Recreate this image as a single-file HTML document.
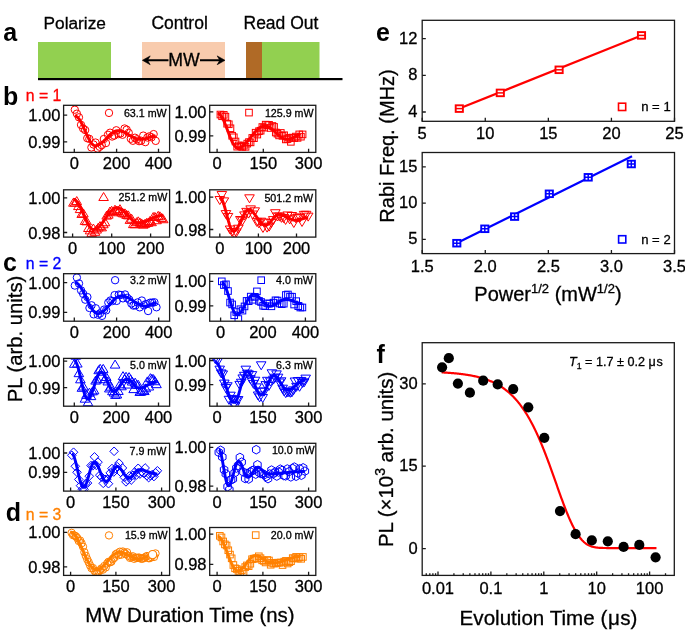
<!DOCTYPE html>
<html><head><meta charset="utf-8"><style>
html,body{margin:0;padding:0;background:#fff;}
svg{display:block;will-change:transform;}
text{font-family:"Liberation Sans",sans-serif;}
</style></head><body>
<svg width="685" height="630" viewBox="0 0 685 630">
<rect width="685" height="630" fill="#fff"/>
<rect x="38" y="42" width="73" height="37" fill="#92d050"/>
<rect x="142" y="42" width="83" height="37" fill="#f8cbad"/>
<rect x="246" y="42" width="16" height="37" fill="#b06a26"/>
<rect x="262" y="42" width="57.5" height="37" fill="#92d050"/>
<rect x="38" y="78" width="304.5" height="2.2" fill="#000"/>
<text x="43.50" y="28.60" font-size="17.3" text-anchor="start" fill="#000" stroke="#000" stroke-width="0.3" >Polarize</text>
<text x="151.40" y="28.70" font-size="17.5" text-anchor="start" fill="#000" stroke="#000" stroke-width="0.3" >Control</text>
<text x="243.50" y="28.70" font-size="17.5" text-anchor="start" fill="#000" stroke="#000" stroke-width="0.3" >Read Out</text>
<text x="184.00" y="65.60" font-size="17.7" text-anchor="middle" fill="#000" stroke="#000" stroke-width="0.3" >MW</text>
<path d="M147 60.3H168.5M200 60.3H220.5" stroke="#000" stroke-width="1.9" fill="none"/>
<path d="M142.4 60.3L150.2 55.9L147.6 60.3L150.2 64.7Z M225 60.3L217.2 55.9L219.8 60.3L217.2 64.7Z" fill="#000" stroke="#000" stroke-width="0.6" stroke-linejoin="round"/>
<text x="3.20" y="40.90" font-size="25" text-anchor="start" fill="#000" font-weight="bold" >a</text>
<text x="3.10" y="104.70" font-size="25" text-anchor="start" fill="#000" font-weight="bold" >b</text>
<text x="3.10" y="270.60" font-size="25" text-anchor="start" fill="#000" font-weight="bold" >c</text>
<text x="5.70" y="520.50" font-size="25" text-anchor="start" fill="#000" font-weight="bold" >d</text>
<text x="376.10" y="40.90" font-size="25" text-anchor="start" fill="#000" font-weight="bold" >e</text>
<text x="376.60" y="362.80" font-size="25" text-anchor="start" fill="#000" font-weight="bold" >f</text>
<text x="25.80" y="101.10" font-size="15.8" text-anchor="start" fill="#ff0000" stroke="#ff0000" stroke-width="0.3" >n = 1</text>
<text x="25.80" y="269.40" font-size="15.8" text-anchor="start" fill="#0000ff" stroke="#0000ff" stroke-width="0.3" >n = 2</text>
<text x="25.80" y="520.40" font-size="15.8" text-anchor="start" fill="#ff8000" stroke="#ff8000" stroke-width="0.3" >n = 3</text>
<clipPath id="c1"><rect x="63.6" y="105.3" width="106.0" height="47.10000000000001"/></clipPath><g clip-path="url(#c1)">
<circle cx="74.80" cy="109.70" r="3.7" fill="none" stroke="#ff0000" stroke-width="1.0"/>
<circle cx="76.87" cy="113.68" r="3.7" fill="none" stroke="#ff0000" stroke-width="1.0"/>
<circle cx="78.95" cy="117.31" r="3.7" fill="none" stroke="#ff0000" stroke-width="1.0"/>
<circle cx="81.02" cy="124.88" r="3.7" fill="none" stroke="#ff0000" stroke-width="1.0"/>
<circle cx="83.10" cy="128.47" r="3.7" fill="none" stroke="#ff0000" stroke-width="1.0"/>
<circle cx="85.17" cy="130.04" r="3.7" fill="none" stroke="#ff0000" stroke-width="1.0"/>
<circle cx="87.25" cy="138.20" r="3.7" fill="none" stroke="#ff0000" stroke-width="1.0"/>
<circle cx="89.32" cy="138.84" r="3.7" fill="none" stroke="#ff0000" stroke-width="1.0"/>
<circle cx="91.39" cy="147.43" r="3.7" fill="none" stroke="#ff0000" stroke-width="1.0"/>
<circle cx="93.47" cy="144.49" r="3.7" fill="none" stroke="#ff0000" stroke-width="1.0"/>
<circle cx="95.54" cy="142.55" r="3.7" fill="none" stroke="#ff0000" stroke-width="1.0"/>
<circle cx="97.62" cy="148.57" r="3.7" fill="none" stroke="#ff0000" stroke-width="1.0"/>
<circle cx="99.69" cy="146.77" r="3.7" fill="none" stroke="#ff0000" stroke-width="1.0"/>
<circle cx="101.77" cy="145.15" r="3.7" fill="none" stroke="#ff0000" stroke-width="1.0"/>
<circle cx="103.84" cy="139.00" r="3.7" fill="none" stroke="#ff0000" stroke-width="1.0"/>
<circle cx="105.92" cy="143.04" r="3.7" fill="none" stroke="#ff0000" stroke-width="1.0"/>
<circle cx="107.99" cy="134.79" r="3.7" fill="none" stroke="#ff0000" stroke-width="1.0"/>
<circle cx="110.06" cy="132.71" r="3.7" fill="none" stroke="#ff0000" stroke-width="1.0"/>
<circle cx="112.14" cy="136.52" r="3.7" fill="none" stroke="#ff0000" stroke-width="1.0"/>
<circle cx="114.21" cy="135.57" r="3.7" fill="none" stroke="#ff0000" stroke-width="1.0"/>
<circle cx="116.29" cy="130.28" r="3.7" fill="none" stroke="#ff0000" stroke-width="1.0"/>
<circle cx="118.36" cy="134.11" r="3.7" fill="none" stroke="#ff0000" stroke-width="1.0"/>
<circle cx="120.44" cy="133.47" r="3.7" fill="none" stroke="#ff0000" stroke-width="1.0"/>
<circle cx="122.51" cy="134.75" r="3.7" fill="none" stroke="#ff0000" stroke-width="1.0"/>
<circle cx="124.58" cy="128.51" r="3.7" fill="none" stroke="#ff0000" stroke-width="1.0"/>
<circle cx="126.66" cy="129.67" r="3.7" fill="none" stroke="#ff0000" stroke-width="1.0"/>
<circle cx="128.73" cy="132.79" r="3.7" fill="none" stroke="#ff0000" stroke-width="1.0"/>
<circle cx="130.81" cy="138.76" r="3.7" fill="none" stroke="#ff0000" stroke-width="1.0"/>
<circle cx="132.88" cy="140.76" r="3.7" fill="none" stroke="#ff0000" stroke-width="1.0"/>
<circle cx="134.96" cy="137.70" r="3.7" fill="none" stroke="#ff0000" stroke-width="1.0"/>
<circle cx="137.03" cy="139.34" r="3.7" fill="none" stroke="#ff0000" stroke-width="1.0"/>
<circle cx="139.11" cy="141.15" r="3.7" fill="none" stroke="#ff0000" stroke-width="1.0"/>
<circle cx="141.18" cy="140.76" r="3.7" fill="none" stroke="#ff0000" stroke-width="1.0"/>
<circle cx="143.25" cy="135.61" r="3.7" fill="none" stroke="#ff0000" stroke-width="1.0"/>
<circle cx="145.33" cy="142.11" r="3.7" fill="none" stroke="#ff0000" stroke-width="1.0"/>
<circle cx="147.40" cy="137.49" r="3.7" fill="none" stroke="#ff0000" stroke-width="1.0"/>
<circle cx="149.48" cy="136.32" r="3.7" fill="none" stroke="#ff0000" stroke-width="1.0"/>
<circle cx="151.55" cy="137.32" r="3.7" fill="none" stroke="#ff0000" stroke-width="1.0"/>
<circle cx="153.63" cy="134.12" r="3.7" fill="none" stroke="#ff0000" stroke-width="1.0"/>
<circle cx="155.70" cy="140.88" r="3.7" fill="none" stroke="#ff0000" stroke-width="1.0"/>
<path d="M74.80 116.00 L75.30 116.04 L75.80 116.17 L76.30 116.39 L76.80 116.69 L77.30 117.08 L77.80 117.54 L78.30 118.09 L78.80 118.70 L79.30 119.39 L79.80 120.15 L80.30 120.97 L80.80 121.85 L81.30 122.78 L81.80 123.76 L82.30 124.78 L82.80 125.83 L83.30 126.92 L83.80 128.02 L84.30 129.15 L84.80 130.28 L85.30 131.42 L85.80 132.55 L86.30 133.68 L86.80 134.78 L87.30 135.87 L87.80 136.92 L88.30 137.94 L88.80 138.92 L89.30 139.85 L89.80 140.73 L90.30 141.55 L90.80 142.31 L91.30 143.00 L91.80 143.61 L92.30 144.16 L92.80 144.62 L93.30 145.01 L93.80 145.31 L94.30 145.53 L94.80 145.66 L95.30 145.70 L95.80 145.68 L96.30 145.63 L96.81 145.54 L97.31 145.41 L97.81 145.25 L98.31 145.05 L98.82 144.82 L99.32 144.56 L99.82 144.27 L100.32 143.95 L100.82 143.60 L101.33 143.22 L101.83 142.82 L102.33 142.39 L102.83 141.95 L103.34 141.49 L103.84 141.01 L104.34 140.52 L104.84 140.01 L105.34 139.50 L105.85 138.98 L106.35 138.46 L106.85 137.94 L107.35 137.42 L107.86 136.90 L108.36 136.39 L108.86 135.88 L109.36 135.39 L109.86 134.91 L110.37 134.45 L110.87 134.01 L111.37 133.58 L111.87 133.18 L112.38 132.80 L112.88 132.45 L113.38 132.13 L113.88 131.84 L114.38 131.58 L114.89 131.35 L115.39 131.15 L115.89 130.99 L116.39 130.86 L116.90 130.77 L117.40 130.72 L117.90 130.70 L118.40 130.71 L118.91 130.74 L119.41 130.80 L119.92 130.87 L120.42 130.96 L120.93 131.08 L121.43 131.21 L121.94 131.36 L122.44 131.53 L122.94 131.72 L123.45 131.92 L123.95 132.14 L124.46 132.37 L124.96 132.62 L125.47 132.88 L125.97 133.14 L126.48 133.42 L126.98 133.71 L127.48 134.00 L127.99 134.29 L128.49 134.60 L129.00 134.90 L129.50 135.20 L130.01 135.50 L130.51 135.81 L131.02 136.10 L131.52 136.39 L132.02 136.68 L132.53 136.96 L133.03 137.22 L133.54 137.48 L134.04 137.73 L134.55 137.96 L135.05 138.18 L135.56 138.38 L136.06 138.57 L136.56 138.74 L137.07 138.89 L137.57 139.02 L138.08 139.14 L138.58 139.23 L139.09 139.30 L139.59 139.36 L140.10 139.39 L140.60 139.40 L141.10 139.39 L141.61 139.36 L142.11 139.32 L142.61 139.26 L143.12 139.18 L143.62 139.08 L144.12 138.98 L144.63 138.85 L145.13 138.72 L145.63 138.58 L146.14 138.42 L146.64 138.26 L147.14 138.09 L147.65 137.92 L148.15 137.75 L148.65 137.58 L149.16 137.41 L149.66 137.24 L150.16 137.08 L150.67 136.93 L151.17 136.78 L151.67 136.65 L152.18 136.52 L152.68 136.42 L153.18 136.32 L153.69 136.24 L154.19 136.18 L154.69 136.14 L155.20 136.11 L155.70 136.10" fill="none" stroke="#ff0000" stroke-width="2.9" stroke-linejoin="round"/>
</g>
<rect x="63.6" y="105.3" width="106.0" height="47.10000000000001" fill="none" stroke="#1a1a1a" stroke-width="1.3"/>
<text x="74.30" y="169.10" font-size="16.5" text-anchor="middle" fill="#000" stroke="#000" stroke-width="0.3" >0</text>
<text x="116.60" y="169.10" font-size="16.5" text-anchor="middle" fill="#000" stroke="#000" stroke-width="0.3" >200</text>
<text x="158.50" y="169.10" font-size="16.5" text-anchor="middle" fill="#000" stroke="#000" stroke-width="0.3" >400</text>
<text x="60.40" y="121.20" font-size="16.5" text-anchor="end" fill="#000" stroke="#000" stroke-width="0.3" >1.00</text>
<text x="60.40" y="147.90" font-size="16.5" text-anchor="end" fill="#000" stroke="#000" stroke-width="0.3" >0.99</text>
<path d="M74.30 152.4v-3.6M116.60 152.4v-3.6M158.50 152.4v-3.6M63.6 115.20h3.6M63.6 141.90h3.6" stroke="#1a1a1a" stroke-width="1.3" fill="none"/>
<circle cx="109.00" cy="112.90" r="3.7" fill="none" stroke="#ff0000" stroke-width="1.0"/>
<text x="123.90" y="116.90" font-size="10.7" text-anchor="start" fill="#000" stroke="#000" stroke-width="0.3" >63.1 mW</text>
<clipPath id="c2"><rect x="209.7" y="105.3" width="106.10000000000002" height="47.10000000000001"/></clipPath><g clip-path="url(#c2)">
<rect x="217.10" y="111.25" width="6.6" height="6.6" fill="none" stroke="#ff0000" stroke-width="1.0"/>
<rect x="218.78" y="112.94" width="6.6" height="6.6" fill="none" stroke="#ff0000" stroke-width="1.0"/>
<rect x="220.46" y="111.55" width="6.6" height="6.6" fill="none" stroke="#ff0000" stroke-width="1.0"/>
<rect x="222.13" y="113.34" width="6.6" height="6.6" fill="none" stroke="#ff0000" stroke-width="1.0"/>
<rect x="223.81" y="120.41" width="6.6" height="6.6" fill="none" stroke="#ff0000" stroke-width="1.0"/>
<rect x="225.49" y="120.97" width="6.6" height="6.6" fill="none" stroke="#ff0000" stroke-width="1.0"/>
<rect x="227.17" y="124.97" width="6.6" height="6.6" fill="none" stroke="#ff0000" stroke-width="1.0"/>
<rect x="228.84" y="132.44" width="6.6" height="6.6" fill="none" stroke="#ff0000" stroke-width="1.0"/>
<rect x="230.52" y="133.98" width="6.6" height="6.6" fill="none" stroke="#ff0000" stroke-width="1.0"/>
<rect x="232.20" y="138.18" width="6.6" height="6.6" fill="none" stroke="#ff0000" stroke-width="1.0"/>
<rect x="233.88" y="143.36" width="6.6" height="6.6" fill="none" stroke="#ff0000" stroke-width="1.0"/>
<rect x="235.55" y="142.07" width="6.6" height="6.6" fill="none" stroke="#ff0000" stroke-width="1.0"/>
<rect x="237.23" y="143.00" width="6.6" height="6.6" fill="none" stroke="#ff0000" stroke-width="1.0"/>
<rect x="238.91" y="143.65" width="6.6" height="6.6" fill="none" stroke="#ff0000" stroke-width="1.0"/>
<rect x="240.59" y="142.34" width="6.6" height="6.6" fill="none" stroke="#ff0000" stroke-width="1.0"/>
<rect x="242.26" y="143.54" width="6.6" height="6.6" fill="none" stroke="#ff0000" stroke-width="1.0"/>
<rect x="243.94" y="140.31" width="6.6" height="6.6" fill="none" stroke="#ff0000" stroke-width="1.0"/>
<rect x="245.62" y="138.81" width="6.6" height="6.6" fill="none" stroke="#ff0000" stroke-width="1.0"/>
<rect x="247.30" y="139.10" width="6.6" height="6.6" fill="none" stroke="#ff0000" stroke-width="1.0"/>
<rect x="248.97" y="134.62" width="6.6" height="6.6" fill="none" stroke="#ff0000" stroke-width="1.0"/>
<rect x="250.65" y="134.90" width="6.6" height="6.6" fill="none" stroke="#ff0000" stroke-width="1.0"/>
<rect x="252.33" y="129.40" width="6.6" height="6.6" fill="none" stroke="#ff0000" stroke-width="1.0"/>
<rect x="254.01" y="131.26" width="6.6" height="6.6" fill="none" stroke="#ff0000" stroke-width="1.0"/>
<rect x="255.68" y="127.89" width="6.6" height="6.6" fill="none" stroke="#ff0000" stroke-width="1.0"/>
<rect x="257.36" y="127.39" width="6.6" height="6.6" fill="none" stroke="#ff0000" stroke-width="1.0"/>
<rect x="259.04" y="123.70" width="6.6" height="6.6" fill="none" stroke="#ff0000" stroke-width="1.0"/>
<rect x="260.72" y="124.37" width="6.6" height="6.6" fill="none" stroke="#ff0000" stroke-width="1.0"/>
<rect x="262.39" y="121.33" width="6.6" height="6.6" fill="none" stroke="#ff0000" stroke-width="1.0"/>
<rect x="264.07" y="121.80" width="6.6" height="6.6" fill="none" stroke="#ff0000" stroke-width="1.0"/>
<rect x="265.75" y="121.54" width="6.6" height="6.6" fill="none" stroke="#ff0000" stroke-width="1.0"/>
<rect x="267.43" y="124.70" width="6.6" height="6.6" fill="none" stroke="#ff0000" stroke-width="1.0"/>
<rect x="269.10" y="122.65" width="6.6" height="6.6" fill="none" stroke="#ff0000" stroke-width="1.0"/>
<rect x="270.78" y="123.64" width="6.6" height="6.6" fill="none" stroke="#ff0000" stroke-width="1.0"/>
<rect x="272.46" y="129.20" width="6.6" height="6.6" fill="none" stroke="#ff0000" stroke-width="1.0"/>
<rect x="274.14" y="130.38" width="6.6" height="6.6" fill="none" stroke="#ff0000" stroke-width="1.0"/>
<rect x="275.81" y="132.09" width="6.6" height="6.6" fill="none" stroke="#ff0000" stroke-width="1.0"/>
<rect x="277.49" y="129.61" width="6.6" height="6.6" fill="none" stroke="#ff0000" stroke-width="1.0"/>
<rect x="279.17" y="132.57" width="6.6" height="6.6" fill="none" stroke="#ff0000" stroke-width="1.0"/>
<rect x="280.85" y="131.95" width="6.6" height="6.6" fill="none" stroke="#ff0000" stroke-width="1.0"/>
<rect x="282.52" y="136.13" width="6.6" height="6.6" fill="none" stroke="#ff0000" stroke-width="1.0"/>
<rect x="284.20" y="135.78" width="6.6" height="6.6" fill="none" stroke="#ff0000" stroke-width="1.0"/>
<rect x="285.88" y="134.58" width="6.6" height="6.6" fill="none" stroke="#ff0000" stroke-width="1.0"/>
<rect x="287.56" y="138.54" width="6.6" height="6.6" fill="none" stroke="#ff0000" stroke-width="1.0"/>
<rect x="289.23" y="134.27" width="6.6" height="6.6" fill="none" stroke="#ff0000" stroke-width="1.0"/>
<rect x="290.91" y="134.79" width="6.6" height="6.6" fill="none" stroke="#ff0000" stroke-width="1.0"/>
<rect x="292.59" y="133.27" width="6.6" height="6.6" fill="none" stroke="#ff0000" stroke-width="1.0"/>
<rect x="294.27" y="134.59" width="6.6" height="6.6" fill="none" stroke="#ff0000" stroke-width="1.0"/>
<rect x="295.94" y="131.09" width="6.6" height="6.6" fill="none" stroke="#ff0000" stroke-width="1.0"/>
<rect x="297.62" y="133.38" width="6.6" height="6.6" fill="none" stroke="#ff0000" stroke-width="1.0"/>
<rect x="299.30" y="131.11" width="6.6" height="6.6" fill="none" stroke="#ff0000" stroke-width="1.0"/>
<path d="M217.60 113.40 L218.10 113.45 L218.60 113.61 L219.11 113.88 L219.61 114.24 L220.11 114.71 L220.61 115.27 L221.12 115.93 L221.62 116.68 L222.12 117.52 L222.62 118.44 L223.13 119.43 L223.63 120.49 L224.13 121.61 L224.63 122.79 L225.14 124.02 L225.64 125.28 L226.14 126.58 L226.64 127.91 L227.15 129.25 L227.65 130.60 L228.15 131.95 L228.66 133.29 L229.16 134.62 L229.66 135.92 L230.16 137.18 L230.66 138.41 L231.17 139.59 L231.67 140.71 L232.17 141.77 L232.67 142.76 L233.18 143.68 L233.68 144.52 L234.18 145.27 L234.69 145.93 L235.19 146.49 L235.69 146.96 L236.19 147.32 L236.69 147.59 L237.20 147.75 L237.70 147.80 L238.21 147.78 L238.72 147.72 L239.22 147.63 L239.73 147.50 L240.24 147.32 L240.75 147.12 L241.25 146.88 L241.76 146.60 L242.27 146.29 L242.78 145.94 L243.28 145.56 L243.79 145.16 L244.30 144.72 L244.81 144.26 L245.31 143.77 L245.82 143.25 L246.33 142.72 L246.84 142.16 L247.34 141.59 L247.85 141.00 L248.36 140.39 L248.87 139.77 L249.37 139.15 L249.88 138.51 L250.39 137.87 L250.90 137.22 L251.40 136.58 L251.91 135.93 L252.42 135.29 L252.93 134.65 L253.43 134.03 L253.94 133.41 L254.45 132.80 L254.96 132.21 L255.46 131.64 L255.97 131.08 L256.48 130.55 L256.99 130.03 L257.49 129.54 L258.00 129.08 L258.51 128.64 L259.02 128.24 L259.52 127.86 L260.03 127.51 L260.54 127.20 L261.05 126.92 L261.55 126.68 L262.06 126.48 L262.57 126.30 L263.08 126.17 L263.58 126.08 L264.09 126.02 L264.60 126.00 L265.10 126.02 L265.61 126.07 L266.11 126.15 L266.62 126.26 L267.12 126.40 L267.63 126.58 L268.13 126.78 L268.64 127.02 L269.14 127.28 L269.64 127.57 L270.15 127.88 L270.65 128.22 L271.16 128.58 L271.66 128.95 L272.17 129.35 L272.67 129.76 L273.18 130.19 L273.68 130.63 L274.18 131.08 L274.69 131.54 L275.19 132.00 L275.70 132.47 L276.20 132.93 L276.71 133.40 L277.21 133.86 L277.72 134.32 L278.22 134.77 L278.72 135.21 L279.23 135.64 L279.73 136.05 L280.24 136.45 L280.74 136.82 L281.25 137.18 L281.75 137.52 L282.26 137.83 L282.76 138.12 L283.26 138.38 L283.77 138.62 L284.27 138.82 L284.78 139.00 L285.28 139.14 L285.79 139.25 L286.29 139.33 L286.80 139.38 L287.30 139.40 L287.80 139.38 L288.30 139.34 L288.80 139.26 L289.30 139.15 L289.80 139.01 L290.30 138.84 L290.80 138.66 L291.30 138.45 L291.80 138.22 L292.30 137.98 L292.80 137.73 L293.30 137.48 L293.80 137.22 L294.30 136.97 L294.80 136.72 L295.30 136.48 L295.80 136.25 L296.30 136.04 L296.80 135.86 L297.30 135.69 L297.80 135.55 L298.30 135.44 L298.80 135.36 L299.30 135.32 L299.80 135.30" fill="none" stroke="#ff0000" stroke-width="2.9" stroke-linejoin="round"/>
</g>
<rect x="209.7" y="105.3" width="106.10000000000002" height="47.10000000000001" fill="none" stroke="#1a1a1a" stroke-width="1.3"/>
<text x="217.10" y="169.10" font-size="16.5" text-anchor="middle" fill="#000" stroke="#000" stroke-width="0.3" >0</text>
<text x="263.30" y="169.10" font-size="16.5" text-anchor="middle" fill="#000" stroke="#000" stroke-width="0.3" >150</text>
<text x="308.60" y="169.10" font-size="16.5" text-anchor="middle" fill="#000" stroke="#000" stroke-width="0.3" >300</text>
<text x="206.50" y="117.80" font-size="16.5" text-anchor="end" fill="#000" stroke="#000" stroke-width="0.3" >1.00</text>
<text x="206.50" y="141.80" font-size="16.5" text-anchor="end" fill="#000" stroke="#000" stroke-width="0.3" >0.99</text>
<path d="M217.10 152.4v-3.6M263.30 152.4v-3.6M308.60 152.4v-3.6M209.7 111.80h3.6M209.7 135.80h3.6" stroke="#1a1a1a" stroke-width="1.3" fill="none"/>
<rect x="245.70" y="109.30" width="6.6" height="6.6" fill="none" stroke="#ff0000" stroke-width="1.0"/>
<text x="264.90" y="116.60" font-size="10.7" text-anchor="start" fill="#000" stroke="#000" stroke-width="0.3" >125.9 mW</text>
<clipPath id="c3"><rect x="63.6" y="189.8" width="106.0" height="47.29999999999998"/></clipPath><g clip-path="url(#c3)">
<path d="M73.40 198.19L78.20 206.19H68.60Z" fill="none" stroke="#ff0000" stroke-width="1.0"/>
<path d="M75.06 198.07L79.86 206.07H70.26Z" fill="none" stroke="#ff0000" stroke-width="1.0"/>
<path d="M76.73 196.57L81.53 204.57H71.93Z" fill="none" stroke="#ff0000" stroke-width="1.0"/>
<path d="M78.39 201.58L83.19 209.58H73.59Z" fill="none" stroke="#ff0000" stroke-width="1.0"/>
<path d="M80.05 204.59L84.85 212.59H75.25Z" fill="none" stroke="#ff0000" stroke-width="1.0"/>
<path d="M81.71 209.43L86.51 217.43H76.91Z" fill="none" stroke="#ff0000" stroke-width="1.0"/>
<path d="M83.38 208.89L88.18 216.89H78.58Z" fill="none" stroke="#ff0000" stroke-width="1.0"/>
<path d="M85.04 216.42L89.84 224.42H80.24Z" fill="none" stroke="#ff0000" stroke-width="1.0"/>
<path d="M86.70 216.82L91.50 224.82H81.90Z" fill="none" stroke="#ff0000" stroke-width="1.0"/>
<path d="M88.37 223.52L93.17 231.52H83.57Z" fill="none" stroke="#ff0000" stroke-width="1.0"/>
<path d="M90.03 225.87L94.83 233.87H85.23Z" fill="none" stroke="#ff0000" stroke-width="1.0"/>
<path d="M91.69 228.39L96.49 236.39H86.89Z" fill="none" stroke="#ff0000" stroke-width="1.0"/>
<path d="M93.36 224.02L98.16 232.02H88.56Z" fill="none" stroke="#ff0000" stroke-width="1.0"/>
<path d="M95.02 227.31L99.82 235.31H90.22Z" fill="none" stroke="#ff0000" stroke-width="1.0"/>
<path d="M96.68 225.04L101.48 233.04H91.88Z" fill="none" stroke="#ff0000" stroke-width="1.0"/>
<path d="M98.34 223.07L103.14 231.07H93.54Z" fill="none" stroke="#ff0000" stroke-width="1.0"/>
<path d="M100.01 221.61L104.81 229.61H95.21Z" fill="none" stroke="#ff0000" stroke-width="1.0"/>
<path d="M101.67 222.84L106.47 230.84H96.87Z" fill="none" stroke="#ff0000" stroke-width="1.0"/>
<path d="M103.33 219.75L108.13 227.75H98.53Z" fill="none" stroke="#ff0000" stroke-width="1.0"/>
<path d="M105.00 217.77L109.80 225.77H100.20Z" fill="none" stroke="#ff0000" stroke-width="1.0"/>
<path d="M106.66 211.09L111.46 219.09H101.86Z" fill="none" stroke="#ff0000" stroke-width="1.0"/>
<path d="M108.32 210.13L113.12 218.13H103.52Z" fill="none" stroke="#ff0000" stroke-width="1.0"/>
<path d="M109.99 207.00L114.79 215.00H105.19Z" fill="none" stroke="#ff0000" stroke-width="1.0"/>
<path d="M111.65 206.29L116.45 214.29H106.85Z" fill="none" stroke="#ff0000" stroke-width="1.0"/>
<path d="M113.31 207.78L118.11 215.78H108.51Z" fill="none" stroke="#ff0000" stroke-width="1.0"/>
<path d="M114.97 205.19L119.77 213.19H110.17Z" fill="none" stroke="#ff0000" stroke-width="1.0"/>
<path d="M116.64 206.39L121.44 214.39H111.84Z" fill="none" stroke="#ff0000" stroke-width="1.0"/>
<path d="M118.30 206.68L123.10 214.68H113.50Z" fill="none" stroke="#ff0000" stroke-width="1.0"/>
<path d="M119.96 204.69L124.76 212.69H115.16Z" fill="none" stroke="#ff0000" stroke-width="1.0"/>
<path d="M121.63 208.00L126.43 216.00H116.83Z" fill="none" stroke="#ff0000" stroke-width="1.0"/>
<path d="M123.29 208.90L128.09 216.90H118.49Z" fill="none" stroke="#ff0000" stroke-width="1.0"/>
<path d="M124.95 208.89L129.75 216.89H120.15Z" fill="none" stroke="#ff0000" stroke-width="1.0"/>
<path d="M126.61 210.37L131.41 218.37H121.81Z" fill="none" stroke="#ff0000" stroke-width="1.0"/>
<path d="M128.28 210.86L133.08 218.86H123.48Z" fill="none" stroke="#ff0000" stroke-width="1.0"/>
<path d="M129.94 215.40L134.74 223.40H125.14Z" fill="none" stroke="#ff0000" stroke-width="1.0"/>
<path d="M131.60 214.27L136.40 222.27H126.80Z" fill="none" stroke="#ff0000" stroke-width="1.0"/>
<path d="M133.27 219.63L138.07 227.63H128.47Z" fill="none" stroke="#ff0000" stroke-width="1.0"/>
<path d="M134.93 219.77L139.73 227.77H130.13Z" fill="none" stroke="#ff0000" stroke-width="1.0"/>
<path d="M136.59 217.73L141.39 225.73H131.79Z" fill="none" stroke="#ff0000" stroke-width="1.0"/>
<path d="M138.26 216.84L143.06 224.84H133.46Z" fill="none" stroke="#ff0000" stroke-width="1.0"/>
<path d="M139.92 218.05L144.72 226.05H135.12Z" fill="none" stroke="#ff0000" stroke-width="1.0"/>
<path d="M141.58 218.95L146.38 226.95H136.78Z" fill="none" stroke="#ff0000" stroke-width="1.0"/>
<path d="M143.24 220.19L148.04 228.19H138.44Z" fill="none" stroke="#ff0000" stroke-width="1.0"/>
<path d="M144.91 219.37L149.71 227.37H140.11Z" fill="none" stroke="#ff0000" stroke-width="1.0"/>
<path d="M146.57 218.45L151.37 226.45H141.77Z" fill="none" stroke="#ff0000" stroke-width="1.0"/>
<path d="M148.23 218.21L153.03 226.21H143.43Z" fill="none" stroke="#ff0000" stroke-width="1.0"/>
<path d="M149.90 216.54L154.70 224.54H145.10Z" fill="none" stroke="#ff0000" stroke-width="1.0"/>
<path d="M151.56 217.68L156.36 225.68H146.76Z" fill="none" stroke="#ff0000" stroke-width="1.0"/>
<path d="M153.22 212.54L158.02 220.54H148.42Z" fill="none" stroke="#ff0000" stroke-width="1.0"/>
<path d="M154.89 212.41L159.69 220.41H150.09Z" fill="none" stroke="#ff0000" stroke-width="1.0"/>
<path d="M156.55 215.73L161.35 223.73H151.75Z" fill="none" stroke="#ff0000" stroke-width="1.0"/>
<path d="M158.21 211.30L163.01 219.30H153.41Z" fill="none" stroke="#ff0000" stroke-width="1.0"/>
<path d="M159.87 211.83L164.67 219.83H155.07Z" fill="none" stroke="#ff0000" stroke-width="1.0"/>
<path d="M161.54 213.57L166.34 221.57H156.74Z" fill="none" stroke="#ff0000" stroke-width="1.0"/>
<path d="M163.20 214.73L168.00 222.73H158.40Z" fill="none" stroke="#ff0000" stroke-width="1.0"/>
<path d="M73.40 199.30 L73.91 199.35 L74.41 199.49 L74.92 199.72 L75.42 200.04 L75.93 200.45 L76.43 200.95 L76.94 201.53 L77.44 202.18 L77.95 202.92 L78.45 203.72 L78.95 204.59 L79.46 205.52 L79.97 206.51 L80.47 207.54 L80.97 208.62 L81.48 209.73 L81.98 210.87 L82.49 212.04 L83.00 213.22 L83.50 214.40 L84.00 215.58 L84.51 216.76 L85.02 217.93 L85.52 219.07 L86.03 220.18 L86.53 221.26 L87.03 222.29 L87.54 223.28 L88.05 224.21 L88.55 225.08 L89.05 225.88 L89.56 226.62 L90.06 227.27 L90.57 227.85 L91.07 228.35 L91.58 228.76 L92.08 229.08 L92.59 229.31 L93.09 229.45 L93.60 229.50 L94.10 229.48 L94.60 229.40 L95.10 229.28 L95.60 229.11 L96.10 228.90 L96.60 228.64 L97.10 228.33 L97.60 227.98 L98.10 227.59 L98.60 227.15 L99.10 226.68 L99.60 226.18 L100.10 225.64 L100.60 225.07 L101.10 224.47 L101.60 223.84 L102.10 223.19 L102.60 222.52 L103.10 221.83 L103.60 221.13 L104.10 220.41 L104.60 219.69 L105.10 218.96 L105.60 218.24 L106.10 217.51 L106.60 216.79 L107.10 216.07 L107.60 215.37 L108.10 214.68 L108.60 214.01 L109.10 213.36 L109.60 212.73 L110.10 212.13 L110.60 211.56 L111.10 211.02 L111.60 210.52 L112.10 210.05 L112.60 209.61 L113.10 209.22 L113.60 208.87 L114.10 208.56 L114.60 208.30 L115.10 208.09 L115.60 207.92 L116.10 207.80 L116.60 207.72 L117.10 207.70 L117.60 207.72 L118.10 207.78 L118.60 207.89 L119.10 208.04 L119.60 208.22 L120.10 208.45 L120.60 208.71 L121.10 209.01 L121.60 209.35 L122.10 209.72 L122.60 210.11 L123.10 210.54 L123.60 211.00 L124.10 211.47 L124.60 211.97 L125.10 212.49 L125.60 213.02 L126.10 213.57 L126.60 214.12 L127.10 214.69 L127.60 215.25 L128.10 215.81 L128.60 216.38 L129.10 216.93 L129.60 217.48 L130.10 218.01 L130.60 218.53 L131.10 219.03 L131.60 219.50 L132.10 219.96 L132.60 220.39 L133.10 220.78 L133.60 221.15 L134.10 221.49 L134.60 221.79 L135.10 222.05 L135.60 222.28 L136.10 222.46 L136.60 222.61 L137.10 222.72 L137.60 222.78 L138.10 222.80 L138.60 222.79 L139.10 222.77 L139.61 222.73 L140.11 222.68 L140.61 222.61 L141.11 222.53 L141.61 222.44 L142.12 222.33 L142.62 222.21 L143.12 222.07 L143.62 221.93 L144.12 221.77 L144.63 221.60 L145.13 221.42 L145.63 221.23 L146.13 221.04 L146.63 220.83 L147.14 220.62 L147.64 220.40 L148.14 220.17 L148.64 219.95 L149.14 219.71 L149.65 219.48 L150.15 219.24 L150.65 219.00 L151.15 218.76 L151.65 218.52 L152.16 218.29 L152.66 218.05 L153.16 217.83 L153.66 217.60 L154.16 217.38 L154.67 217.17 L155.17 216.96 L155.67 216.77 L156.17 216.58 L156.67 216.40 L157.18 216.23 L157.68 216.07 L158.18 215.93 L158.68 215.79 L159.18 215.67 L159.69 215.56 L160.19 215.47 L160.69 215.39 L161.19 215.32 L161.69 215.27 L162.20 215.23 L162.70 215.21 L163.20 215.20" fill="none" stroke="#ff0000" stroke-width="2.9" stroke-linejoin="round"/>
</g>
<rect x="63.6" y="189.8" width="106.0" height="47.29999999999998" fill="none" stroke="#1a1a1a" stroke-width="1.3"/>
<text x="72.60" y="253.80" font-size="16.5" text-anchor="middle" fill="#000" stroke="#000" stroke-width="0.3" >0</text>
<text x="111.70" y="253.80" font-size="16.5" text-anchor="middle" fill="#000" stroke="#000" stroke-width="0.3" >100</text>
<text x="150.60" y="253.80" font-size="16.5" text-anchor="middle" fill="#000" stroke="#000" stroke-width="0.3" >200</text>
<text x="60.40" y="203.90" font-size="16.5" text-anchor="end" fill="#000" stroke="#000" stroke-width="0.3" >1.00</text>
<text x="60.40" y="238.50" font-size="16.5" text-anchor="end" fill="#000" stroke="#000" stroke-width="0.3" >0.98</text>
<path d="M72.60 237.1v-3.6M111.70 237.1v-3.6M150.60 237.1v-3.6M63.6 197.90h3.6M63.6 232.50h3.6" stroke="#1a1a1a" stroke-width="1.3" fill="none"/>
<path d="M103.60 192.50L108.40 200.50H98.80Z" fill="none" stroke="#ff0000" stroke-width="1.0"/>
<text x="118.60" y="201.10" font-size="10.7" text-anchor="start" fill="#000" stroke="#000" stroke-width="0.3" >251.2 mW</text>
<clipPath id="c4"><rect x="209.7" y="189.8" width="106.10000000000002" height="47.29999999999998"/></clipPath><g clip-path="url(#c4)">
<path d="M219.80 204.53L224.60 196.53H215.00Z" fill="none" stroke="#ff0000" stroke-width="1.0"/>
<path d="M221.86 199.56L226.66 191.56H217.06Z" fill="none" stroke="#ff0000" stroke-width="1.0"/>
<path d="M223.91 205.86L228.71 197.86H219.11Z" fill="none" stroke="#ff0000" stroke-width="1.0"/>
<path d="M225.97 218.58L230.77 210.58H221.17Z" fill="none" stroke="#ff0000" stroke-width="1.0"/>
<path d="M228.02 221.44L232.82 213.44H223.22Z" fill="none" stroke="#ff0000" stroke-width="1.0"/>
<path d="M230.08 234.01L234.88 226.01H225.28Z" fill="none" stroke="#ff0000" stroke-width="1.0"/>
<path d="M232.13 236.48L236.93 228.48H227.33Z" fill="none" stroke="#ff0000" stroke-width="1.0"/>
<path d="M234.19 237.95L238.99 229.95H229.39Z" fill="none" stroke="#ff0000" stroke-width="1.0"/>
<path d="M236.25 236.96L241.05 228.96H231.45Z" fill="none" stroke="#ff0000" stroke-width="1.0"/>
<path d="M238.30 233.23L243.10 225.23H233.50Z" fill="none" stroke="#ff0000" stroke-width="1.0"/>
<path d="M240.36 224.50L245.16 216.50H235.56Z" fill="none" stroke="#ff0000" stroke-width="1.0"/>
<path d="M242.41 225.18L247.21 217.18H237.61Z" fill="none" stroke="#ff0000" stroke-width="1.0"/>
<path d="M244.47 219.90L249.27 211.90H239.67Z" fill="none" stroke="#ff0000" stroke-width="1.0"/>
<path d="M246.53 216.36L251.33 208.36H241.73Z" fill="none" stroke="#ff0000" stroke-width="1.0"/>
<path d="M248.58 218.09L253.38 210.09H243.78Z" fill="none" stroke="#ff0000" stroke-width="1.0"/>
<path d="M250.64 213.86L255.44 205.86H245.84Z" fill="none" stroke="#ff0000" stroke-width="1.0"/>
<path d="M252.69 219.00L257.49 211.00H247.89Z" fill="none" stroke="#ff0000" stroke-width="1.0"/>
<path d="M254.75 215.82L259.55 207.82H249.95Z" fill="none" stroke="#ff0000" stroke-width="1.0"/>
<path d="M256.80 226.40L261.60 218.40H252.00Z" fill="none" stroke="#ff0000" stroke-width="1.0"/>
<path d="M258.86 227.85L263.66 219.85H254.06Z" fill="none" stroke="#ff0000" stroke-width="1.0"/>
<path d="M260.92 226.18L265.72 218.18H256.12Z" fill="none" stroke="#ff0000" stroke-width="1.0"/>
<path d="M262.97 232.43L267.77 224.43H258.17Z" fill="none" stroke="#ff0000" stroke-width="1.0"/>
<path d="M265.03 227.06L269.83 219.06H260.23Z" fill="none" stroke="#ff0000" stroke-width="1.0"/>
<path d="M267.08 232.13L271.88 224.13H262.28Z" fill="none" stroke="#ff0000" stroke-width="1.0"/>
<path d="M269.14 231.11L273.94 223.11H264.34Z" fill="none" stroke="#ff0000" stroke-width="1.0"/>
<path d="M271.20 227.40L276.00 219.40H266.40Z" fill="none" stroke="#ff0000" stroke-width="1.0"/>
<path d="M273.25 224.58L278.05 216.58H268.45Z" fill="none" stroke="#ff0000" stroke-width="1.0"/>
<path d="M275.31 217.72L280.11 209.72H270.51Z" fill="none" stroke="#ff0000" stroke-width="1.0"/>
<path d="M277.36 220.96L282.16 212.96H272.56Z" fill="none" stroke="#ff0000" stroke-width="1.0"/>
<path d="M279.42 221.09L284.22 213.09H274.62Z" fill="none" stroke="#ff0000" stroke-width="1.0"/>
<path d="M281.47 222.33L286.27 214.33H276.67Z" fill="none" stroke="#ff0000" stroke-width="1.0"/>
<path d="M283.53 222.56L288.33 214.56H278.73Z" fill="none" stroke="#ff0000" stroke-width="1.0"/>
<path d="M285.59 224.44L290.39 216.44H280.79Z" fill="none" stroke="#ff0000" stroke-width="1.0"/>
<path d="M287.64 219.96L292.44 211.96H282.84Z" fill="none" stroke="#ff0000" stroke-width="1.0"/>
<path d="M289.70 223.86L294.50 215.86H284.90Z" fill="none" stroke="#ff0000" stroke-width="1.0"/>
<path d="M291.75 220.51L296.55 212.51H286.95Z" fill="none" stroke="#ff0000" stroke-width="1.0"/>
<path d="M293.81 227.49L298.61 219.49H289.01Z" fill="none" stroke="#ff0000" stroke-width="1.0"/>
<path d="M295.87 222.82L300.67 214.82H291.07Z" fill="none" stroke="#ff0000" stroke-width="1.0"/>
<path d="M297.92 222.05L302.72 214.05H293.12Z" fill="none" stroke="#ff0000" stroke-width="1.0"/>
<path d="M299.98 222.16L304.78 214.16H295.18Z" fill="none" stroke="#ff0000" stroke-width="1.0"/>
<path d="M302.03 226.47L306.83 218.47H297.23Z" fill="none" stroke="#ff0000" stroke-width="1.0"/>
<path d="M304.09 219.34L308.89 211.34H299.29Z" fill="none" stroke="#ff0000" stroke-width="1.0"/>
<path d="M306.14 219.29L310.94 211.29H301.34Z" fill="none" stroke="#ff0000" stroke-width="1.0"/>
<path d="M308.20 221.15L313.00 213.15H303.40Z" fill="none" stroke="#ff0000" stroke-width="1.0"/>
<path d="M219.80 197.60 L220.31 197.71 L220.81 198.05 L221.32 198.61 L221.83 199.39 L222.34 200.36 L222.84 201.53 L223.35 202.87 L223.86 204.37 L224.37 206.00 L224.87 207.75 L225.38 209.58 L225.89 211.48 L226.40 213.42 L226.90 215.38 L227.41 217.32 L227.92 219.22 L228.43 221.05 L228.93 222.80 L229.44 224.43 L229.95 225.93 L230.46 227.27 L230.96 228.44 L231.47 229.41 L231.98 230.19 L232.49 230.75 L232.99 231.09 L233.50 231.20 L234.00 231.14 L234.51 230.97 L235.01 230.68 L235.51 230.27 L236.02 229.77 L236.52 229.16 L237.02 228.45 L237.53 227.66 L238.03 226.79 L238.53 225.85 L239.04 224.85 L239.54 223.81 L240.04 222.72 L240.55 221.62 L241.05 220.50 L241.55 219.38 L242.06 218.28 L242.56 217.19 L243.06 216.15 L243.57 215.15 L244.07 214.21 L244.57 213.34 L245.08 212.55 L245.58 211.84 L246.08 211.23 L246.59 210.73 L247.09 210.32 L247.59 210.03 L248.10 209.86 L248.60 209.80 L249.11 209.84 L249.62 209.94 L250.13 210.11 L250.64 210.36 L251.15 210.66 L251.65 211.03 L252.16 211.46 L252.67 211.94 L253.18 212.47 L253.69 213.05 L254.20 213.68 L254.71 214.33 L255.22 215.02 L255.73 215.72 L256.24 216.45 L256.75 217.18 L257.25 217.92 L257.76 218.65 L258.27 219.38 L258.78 220.08 L259.29 220.77 L259.80 221.43 L260.31 222.05 L260.82 222.63 L261.33 223.16 L261.84 223.64 L262.35 224.07 L262.85 224.44 L263.36 224.74 L263.87 224.99 L264.38 225.16 L264.89 225.26 L265.40 225.30 L265.90 225.26 L266.40 225.15 L266.90 224.97 L267.40 224.72 L267.90 224.40 L268.40 224.02 L268.90 223.59 L269.40 223.10 L269.90 222.58 L270.40 222.01 L270.90 221.41 L271.40 220.80 L271.90 220.17 L272.40 219.53 L272.90 218.90 L273.40 218.29 L273.90 217.69 L274.40 217.12 L274.90 216.60 L275.40 216.11 L275.90 215.68 L276.40 215.30 L276.90 214.98 L277.40 214.73 L277.90 214.55 L278.40 214.44 L278.90 214.40 L279.41 214.41 L279.91 214.45 L280.42 214.52 L280.92 214.61 L281.43 214.73 L281.94 214.87 L282.44 215.03 L282.95 215.21 L283.45 215.42 L283.96 215.64 L284.47 215.88 L284.97 216.12 L285.48 216.39 L285.98 216.65 L286.49 216.93 L287.00 217.21 L287.50 217.49 L288.01 217.77 L288.52 218.05 L289.02 218.31 L289.53 218.58 L290.03 218.83 L290.54 219.06 L291.05 219.28 L291.55 219.49 L292.06 219.67 L292.56 219.83 L293.07 219.97 L293.58 220.09 L294.08 220.18 L294.59 220.25 L295.09 220.29 L295.60 220.30 L296.10 220.29 L296.61 220.26 L297.11 220.21 L297.62 220.14 L298.12 220.05 L298.62 219.95 L299.13 219.83 L299.63 219.70 L300.14 219.55 L300.64 219.40 L301.14 219.24 L301.65 219.08 L302.15 218.92 L302.66 218.76 L303.16 218.60 L303.66 218.45 L304.17 218.30 L304.67 218.17 L305.18 218.05 L305.68 217.95 L306.18 217.86 L306.69 217.79 L307.19 217.74 L307.70 217.71 L308.20 217.70" fill="none" stroke="#ff0000" stroke-width="2.9" stroke-linejoin="round"/>
</g>
<rect x="209.7" y="189.8" width="106.10000000000002" height="47.29999999999998" fill="none" stroke="#1a1a1a" stroke-width="1.3"/>
<text x="219.80" y="253.80" font-size="16.5" text-anchor="middle" fill="#000" stroke="#000" stroke-width="0.3" >0</text>
<text x="258.40" y="253.80" font-size="16.5" text-anchor="middle" fill="#000" stroke="#000" stroke-width="0.3" >100</text>
<text x="296.50" y="253.80" font-size="16.5" text-anchor="middle" fill="#000" stroke="#000" stroke-width="0.3" >200</text>
<text x="206.50" y="203.10" font-size="16.5" text-anchor="end" fill="#000" stroke="#000" stroke-width="0.3" >1.00</text>
<text x="206.50" y="235.50" font-size="16.5" text-anchor="end" fill="#000" stroke="#000" stroke-width="0.3" >0.98</text>
<path d="M219.80 237.1v-3.6M258.40 237.1v-3.6M296.50 237.1v-3.6M209.7 197.10h3.6M209.7 229.50h3.6" stroke="#1a1a1a" stroke-width="1.3" fill="none"/>
<path d="M249.50 202.80L254.30 194.80H244.70Z" fill="none" stroke="#ff0000" stroke-width="1.0"/>
<text x="264.40" y="202.20" font-size="10.7" text-anchor="start" fill="#000" stroke="#000" stroke-width="0.3" >501.2 mW</text>
<clipPath id="c5"><rect x="63.6" y="273.7" width="106.0" height="47.5"/></clipPath><g clip-path="url(#c5)">
<circle cx="74.80" cy="285.56" r="3.7" fill="none" stroke="#0000ff" stroke-width="1.0"/>
<circle cx="76.89" cy="277.54" r="3.7" fill="none" stroke="#0000ff" stroke-width="1.0"/>
<circle cx="78.99" cy="283.45" r="3.7" fill="none" stroke="#0000ff" stroke-width="1.0"/>
<circle cx="81.08" cy="290.40" r="3.7" fill="none" stroke="#0000ff" stroke-width="1.0"/>
<circle cx="83.18" cy="293.85" r="3.7" fill="none" stroke="#0000ff" stroke-width="1.0"/>
<circle cx="85.27" cy="299.67" r="3.7" fill="none" stroke="#0000ff" stroke-width="1.0"/>
<circle cx="87.37" cy="297.06" r="3.7" fill="none" stroke="#0000ff" stroke-width="1.0"/>
<circle cx="89.46" cy="307.96" r="3.7" fill="none" stroke="#0000ff" stroke-width="1.0"/>
<circle cx="91.56" cy="305.30" r="3.7" fill="none" stroke="#0000ff" stroke-width="1.0"/>
<circle cx="93.65" cy="314.34" r="3.7" fill="none" stroke="#0000ff" stroke-width="1.0"/>
<circle cx="95.75" cy="308.27" r="3.7" fill="none" stroke="#0000ff" stroke-width="1.0"/>
<circle cx="97.84" cy="314.69" r="3.7" fill="none" stroke="#0000ff" stroke-width="1.0"/>
<circle cx="99.94" cy="313.50" r="3.7" fill="none" stroke="#0000ff" stroke-width="1.0"/>
<circle cx="102.03" cy="315.86" r="3.7" fill="none" stroke="#0000ff" stroke-width="1.0"/>
<circle cx="104.13" cy="309.59" r="3.7" fill="none" stroke="#0000ff" stroke-width="1.0"/>
<circle cx="106.22" cy="310.36" r="3.7" fill="none" stroke="#0000ff" stroke-width="1.0"/>
<circle cx="108.32" cy="302.54" r="3.7" fill="none" stroke="#0000ff" stroke-width="1.0"/>
<circle cx="110.41" cy="300.48" r="3.7" fill="none" stroke="#0000ff" stroke-width="1.0"/>
<circle cx="112.51" cy="301.02" r="3.7" fill="none" stroke="#0000ff" stroke-width="1.0"/>
<circle cx="114.60" cy="295.12" r="3.7" fill="none" stroke="#0000ff" stroke-width="1.0"/>
<circle cx="116.70" cy="300.88" r="3.7" fill="none" stroke="#0000ff" stroke-width="1.0"/>
<circle cx="118.79" cy="294.62" r="3.7" fill="none" stroke="#0000ff" stroke-width="1.0"/>
<circle cx="120.89" cy="294.95" r="3.7" fill="none" stroke="#0000ff" stroke-width="1.0"/>
<circle cx="122.98" cy="298.34" r="3.7" fill="none" stroke="#0000ff" stroke-width="1.0"/>
<circle cx="125.08" cy="294.49" r="3.7" fill="none" stroke="#0000ff" stroke-width="1.0"/>
<circle cx="127.17" cy="297.78" r="3.7" fill="none" stroke="#0000ff" stroke-width="1.0"/>
<circle cx="129.27" cy="299.63" r="3.7" fill="none" stroke="#0000ff" stroke-width="1.0"/>
<circle cx="131.36" cy="303.55" r="3.7" fill="none" stroke="#0000ff" stroke-width="1.0"/>
<circle cx="133.46" cy="305.61" r="3.7" fill="none" stroke="#0000ff" stroke-width="1.0"/>
<circle cx="135.55" cy="305.33" r="3.7" fill="none" stroke="#0000ff" stroke-width="1.0"/>
<circle cx="137.65" cy="302.41" r="3.7" fill="none" stroke="#0000ff" stroke-width="1.0"/>
<circle cx="139.74" cy="307.34" r="3.7" fill="none" stroke="#0000ff" stroke-width="1.0"/>
<circle cx="141.84" cy="300.54" r="3.7" fill="none" stroke="#0000ff" stroke-width="1.0"/>
<circle cx="143.93" cy="305.27" r="3.7" fill="none" stroke="#0000ff" stroke-width="1.0"/>
<circle cx="146.03" cy="304.00" r="3.7" fill="none" stroke="#0000ff" stroke-width="1.0"/>
<circle cx="148.12" cy="311.01" r="3.7" fill="none" stroke="#0000ff" stroke-width="1.0"/>
<circle cx="150.22" cy="302.64" r="3.7" fill="none" stroke="#0000ff" stroke-width="1.0"/>
<circle cx="152.31" cy="302.63" r="3.7" fill="none" stroke="#0000ff" stroke-width="1.0"/>
<circle cx="154.41" cy="302.26" r="3.7" fill="none" stroke="#0000ff" stroke-width="1.0"/>
<circle cx="156.50" cy="307.26" r="3.7" fill="none" stroke="#0000ff" stroke-width="1.0"/>
<path d="M74.80 282.60 L75.30 282.64 L75.80 282.74 L76.30 282.92 L76.80 283.17 L77.30 283.49 L77.80 283.88 L78.30 284.34 L78.80 284.86 L79.30 285.44 L79.80 286.08 L80.30 286.77 L80.80 287.52 L81.30 288.32 L81.80 289.16 L82.30 290.05 L82.80 290.97 L83.30 291.92 L83.80 292.91 L84.30 293.92 L84.80 294.95 L85.30 295.99 L85.80 297.04 L86.30 298.10 L86.80 299.16 L87.30 300.21 L87.80 301.25 L88.30 302.28 L88.80 303.29 L89.30 304.28 L89.80 305.23 L90.30 306.15 L90.80 307.04 L91.30 307.88 L91.80 308.68 L92.30 309.43 L92.80 310.12 L93.30 310.76 L93.80 311.34 L94.30 311.86 L94.80 312.32 L95.30 312.71 L95.80 313.03 L96.30 313.28 L96.80 313.46 L97.30 313.56 L97.80 313.60 L98.30 313.58 L98.80 313.52 L99.30 313.42 L99.80 313.29 L100.30 313.11 L100.80 312.90 L101.30 312.65 L101.80 312.37 L102.30 312.06 L102.80 311.71 L103.30 311.33 L103.80 310.92 L104.30 310.48 L104.80 310.02 L105.30 309.54 L105.80 309.03 L106.30 308.50 L106.80 307.96 L107.30 307.41 L107.80 306.84 L108.30 306.26 L108.80 305.68 L109.30 305.09 L109.80 304.51 L110.30 303.92 L110.80 303.34 L111.30 302.76 L111.80 302.19 L112.30 301.64 L112.80 301.10 L113.30 300.57 L113.80 300.06 L114.30 299.58 L114.80 299.12 L115.30 298.68 L115.80 298.27 L116.30 297.89 L116.80 297.54 L117.30 297.23 L117.80 296.95 L118.30 296.70 L118.80 296.49 L119.30 296.31 L119.80 296.18 L120.30 296.08 L120.80 296.02 L121.30 296.00 L121.81 296.01 L122.31 296.04 L122.82 296.10 L123.33 296.17 L123.83 296.27 L124.34 296.38 L124.84 296.52 L125.35 296.68 L125.86 296.85 L126.36 297.04 L126.87 297.25 L127.38 297.48 L127.88 297.72 L128.39 297.98 L128.89 298.24 L129.40 298.52 L129.91 298.82 L130.41 299.12 L130.92 299.43 L131.43 299.74 L131.93 300.06 L132.44 300.39 L132.94 300.72 L133.45 301.05 L133.96 301.38 L134.46 301.71 L134.97 302.04 L135.47 302.36 L135.98 302.67 L136.49 302.98 L136.99 303.28 L137.50 303.57 L138.01 303.86 L138.51 304.12 L139.02 304.38 L139.53 304.62 L140.03 304.85 L140.54 305.06 L141.04 305.25 L141.55 305.42 L142.06 305.58 L142.56 305.72 L143.07 305.83 L143.57 305.93 L144.08 306.00 L144.59 306.06 L145.09 306.09 L145.60 306.10 L146.12 306.08 L146.64 306.02 L147.16 305.93 L147.68 305.80 L148.20 305.65 L148.71 305.46 L149.23 305.25 L149.75 305.02 L150.27 304.78 L150.79 304.53 L151.31 304.27 L151.83 304.02 L152.35 303.78 L152.87 303.55 L153.39 303.34 L153.90 303.15 L154.42 303.00 L154.94 302.87 L155.46 302.78 L155.98 302.72 L156.50 302.70" fill="none" stroke="#0000ff" stroke-width="2.9" stroke-linejoin="round"/>
</g>
<rect x="63.6" y="273.7" width="106.0" height="47.5" fill="none" stroke="#1a1a1a" stroke-width="1.3"/>
<text x="74.30" y="337.90" font-size="16.5" text-anchor="middle" fill="#000" stroke="#000" stroke-width="0.3" >0</text>
<text x="116.60" y="337.90" font-size="16.5" text-anchor="middle" fill="#000" stroke="#000" stroke-width="0.3" >200</text>
<text x="158.70" y="337.90" font-size="16.5" text-anchor="middle" fill="#000" stroke="#000" stroke-width="0.3" >400</text>
<text x="60.40" y="288.60" font-size="16.5" text-anchor="end" fill="#000" stroke="#000" stroke-width="0.3" >1.00</text>
<text x="60.40" y="318.30" font-size="16.5" text-anchor="end" fill="#000" stroke="#000" stroke-width="0.3" >0.99</text>
<path d="M74.30 321.2v-3.6M116.60 321.2v-3.6M158.70 321.2v-3.6M63.6 282.60h3.6M63.6 312.30h3.6" stroke="#1a1a1a" stroke-width="1.3" fill="none"/>
<circle cx="115.10" cy="280.20" r="3.7" fill="none" stroke="#0000ff" stroke-width="1.0"/>
<text x="130.00" y="284.20" font-size="10.7" text-anchor="start" fill="#000" stroke="#000" stroke-width="0.3" >3.2 mW</text>
<clipPath id="c6"><rect x="209.7" y="273.7" width="106.10000000000002" height="47.5"/></clipPath><g clip-path="url(#c6)">
<rect x="218.50" y="278.04" width="6.6" height="6.6" fill="none" stroke="#0000ff" stroke-width="1.0"/>
<rect x="220.57" y="281.75" width="6.6" height="6.6" fill="none" stroke="#0000ff" stroke-width="1.0"/>
<rect x="222.63" y="281.02" width="6.6" height="6.6" fill="none" stroke="#0000ff" stroke-width="1.0"/>
<rect x="224.70" y="287.74" width="6.6" height="6.6" fill="none" stroke="#0000ff" stroke-width="1.0"/>
<rect x="226.77" y="299.24" width="6.6" height="6.6" fill="none" stroke="#0000ff" stroke-width="1.0"/>
<rect x="228.83" y="301.09" width="6.6" height="6.6" fill="none" stroke="#0000ff" stroke-width="1.0"/>
<rect x="230.90" y="311.96" width="6.6" height="6.6" fill="none" stroke="#0000ff" stroke-width="1.0"/>
<rect x="232.97" y="308.74" width="6.6" height="6.6" fill="none" stroke="#0000ff" stroke-width="1.0"/>
<rect x="235.03" y="315.74" width="6.6" height="6.6" fill="none" stroke="#0000ff" stroke-width="1.0"/>
<rect x="237.10" y="305.91" width="6.6" height="6.6" fill="none" stroke="#0000ff" stroke-width="1.0"/>
<rect x="239.17" y="307.32" width="6.6" height="6.6" fill="none" stroke="#0000ff" stroke-width="1.0"/>
<rect x="241.23" y="303.12" width="6.6" height="6.6" fill="none" stroke="#0000ff" stroke-width="1.0"/>
<rect x="243.30" y="297.60" width="6.6" height="6.6" fill="none" stroke="#0000ff" stroke-width="1.0"/>
<rect x="245.37" y="297.89" width="6.6" height="6.6" fill="none" stroke="#0000ff" stroke-width="1.0"/>
<rect x="247.43" y="293.31" width="6.6" height="6.6" fill="none" stroke="#0000ff" stroke-width="1.0"/>
<rect x="249.50" y="296.46" width="6.6" height="6.6" fill="none" stroke="#0000ff" stroke-width="1.0"/>
<rect x="251.57" y="293.53" width="6.6" height="6.6" fill="none" stroke="#0000ff" stroke-width="1.0"/>
<rect x="253.63" y="288.08" width="6.6" height="6.6" fill="none" stroke="#0000ff" stroke-width="1.0"/>
<rect x="255.70" y="297.62" width="6.6" height="6.6" fill="none" stroke="#0000ff" stroke-width="1.0"/>
<rect x="257.77" y="298.70" width="6.6" height="6.6" fill="none" stroke="#0000ff" stroke-width="1.0"/>
<rect x="259.83" y="302.46" width="6.6" height="6.6" fill="none" stroke="#0000ff" stroke-width="1.0"/>
<rect x="261.90" y="302.89" width="6.6" height="6.6" fill="none" stroke="#0000ff" stroke-width="1.0"/>
<rect x="263.97" y="300.10" width="6.6" height="6.6" fill="none" stroke="#0000ff" stroke-width="1.0"/>
<rect x="266.03" y="300.33" width="6.6" height="6.6" fill="none" stroke="#0000ff" stroke-width="1.0"/>
<rect x="268.10" y="303.00" width="6.6" height="6.6" fill="none" stroke="#0000ff" stroke-width="1.0"/>
<rect x="270.17" y="299.35" width="6.6" height="6.6" fill="none" stroke="#0000ff" stroke-width="1.0"/>
<rect x="272.23" y="297.00" width="6.6" height="6.6" fill="none" stroke="#0000ff" stroke-width="1.0"/>
<rect x="274.30" y="297.30" width="6.6" height="6.6" fill="none" stroke="#0000ff" stroke-width="1.0"/>
<rect x="276.37" y="300.22" width="6.6" height="6.6" fill="none" stroke="#0000ff" stroke-width="1.0"/>
<rect x="278.43" y="300.87" width="6.6" height="6.6" fill="none" stroke="#0000ff" stroke-width="1.0"/>
<rect x="280.50" y="300.38" width="6.6" height="6.6" fill="none" stroke="#0000ff" stroke-width="1.0"/>
<rect x="282.57" y="291.70" width="6.6" height="6.6" fill="none" stroke="#0000ff" stroke-width="1.0"/>
<rect x="284.63" y="291.18" width="6.6" height="6.6" fill="none" stroke="#0000ff" stroke-width="1.0"/>
<rect x="286.70" y="293.35" width="6.6" height="6.6" fill="none" stroke="#0000ff" stroke-width="1.0"/>
<rect x="288.77" y="293.41" width="6.6" height="6.6" fill="none" stroke="#0000ff" stroke-width="1.0"/>
<rect x="290.83" y="301.22" width="6.6" height="6.6" fill="none" stroke="#0000ff" stroke-width="1.0"/>
<rect x="292.90" y="297.86" width="6.6" height="6.6" fill="none" stroke="#0000ff" stroke-width="1.0"/>
<rect x="294.97" y="302.91" width="6.6" height="6.6" fill="none" stroke="#0000ff" stroke-width="1.0"/>
<rect x="297.03" y="304.21" width="6.6" height="6.6" fill="none" stroke="#0000ff" stroke-width="1.0"/>
<rect x="299.10" y="304.16" width="6.6" height="6.6" fill="none" stroke="#0000ff" stroke-width="1.0"/>
<path d="M221.80 282.60 L222.30 282.69 L222.81 282.95 L223.31 283.38 L223.81 283.98 L224.32 284.74 L224.82 285.65 L225.32 286.70 L225.83 287.88 L226.33 289.17 L226.83 290.57 L227.34 292.06 L227.84 293.62 L228.34 295.23 L228.85 296.88 L229.35 298.55 L229.85 300.22 L230.36 301.87 L230.86 303.48 L231.36 305.04 L231.87 306.52 L232.37 307.93 L232.87 309.22 L233.38 310.40 L233.88 311.45 L234.38 312.36 L234.89 313.12 L235.39 313.72 L235.89 314.15 L236.40 314.41 L236.90 314.50 L237.41 314.45 L237.92 314.32 L238.43 314.09 L238.94 313.78 L239.45 313.38 L239.95 312.90 L240.46 312.34 L240.97 311.71 L241.48 311.01 L241.99 310.26 L242.50 309.45 L243.01 308.60 L243.52 307.70 L244.03 306.78 L244.54 305.84 L245.05 304.88 L245.55 303.92 L246.06 302.96 L246.57 302.02 L247.08 301.10 L247.59 300.20 L248.10 299.35 L248.61 298.54 L249.12 297.79 L249.63 297.09 L250.14 296.46 L250.65 295.90 L251.15 295.42 L251.66 295.02 L252.17 294.71 L252.68 294.48 L253.19 294.35 L253.70 294.30 L254.21 294.33 L254.73 294.42 L255.24 294.57 L255.75 294.78 L256.26 295.04 L256.78 295.36 L257.29 295.72 L257.80 296.14 L258.32 296.59 L258.83 297.08 L259.34 297.60 L259.85 298.15 L260.37 298.72 L260.88 299.31 L261.39 299.90 L261.91 300.50 L262.42 301.09 L262.93 301.68 L263.45 302.25 L263.96 302.80 L264.47 303.32 L264.98 303.81 L265.50 304.26 L266.01 304.68 L266.52 305.04 L267.04 305.36 L267.55 305.62 L268.06 305.83 L268.57 305.98 L269.09 306.07 L269.60 306.10 L270.10 306.08 L270.60 306.04 L271.10 305.96 L271.60 305.84 L272.10 305.70 L272.60 305.54 L273.10 305.34 L273.60 305.12 L274.10 304.88 L274.60 304.61 L275.10 304.33 L275.60 304.03 L276.10 303.72 L276.60 303.40 L277.10 303.08 L277.60 302.75 L278.10 302.42 L278.60 302.10 L279.10 301.78 L279.60 301.47 L280.10 301.17 L280.60 300.89 L281.10 300.62 L281.60 300.38 L282.10 300.16 L282.60 299.96 L283.10 299.80 L283.60 299.66 L284.10 299.54 L284.60 299.46 L285.10 299.42 L285.60 299.40 L286.11 299.41 L286.62 299.44 L287.13 299.49 L287.64 299.55 L288.15 299.63 L288.65 299.73 L289.16 299.85 L289.67 299.98 L290.18 300.12 L290.69 300.28 L291.20 300.45 L291.71 300.63 L292.22 300.81 L292.73 301.00 L293.24 301.20 L293.75 301.40 L294.25 301.60 L294.76 301.80 L295.27 302.00 L295.78 302.19 L296.29 302.37 L296.80 302.55 L297.31 302.72 L297.82 302.88 L298.33 303.02 L298.84 303.15 L299.35 303.27 L299.85 303.37 L300.36 303.45 L300.87 303.51 L301.38 303.56 L301.89 303.59 L302.40 303.60" fill="none" stroke="#0000ff" stroke-width="2.9" stroke-linejoin="round"/>
</g>
<rect x="209.7" y="273.7" width="106.10000000000002" height="47.5" fill="none" stroke="#1a1a1a" stroke-width="1.3"/>
<text x="220.60" y="337.90" font-size="16.5" text-anchor="middle" fill="#000" stroke="#000" stroke-width="0.3" >0</text>
<text x="262.90" y="337.90" font-size="16.5" text-anchor="middle" fill="#000" stroke="#000" stroke-width="0.3" >200</text>
<text x="305.40" y="337.90" font-size="16.5" text-anchor="middle" fill="#000" stroke="#000" stroke-width="0.3" >400</text>
<text x="206.50" y="287.40" font-size="16.5" text-anchor="end" fill="#000" stroke="#000" stroke-width="0.3" >1.00</text>
<text x="206.50" y="311.80" font-size="16.5" text-anchor="end" fill="#000" stroke="#000" stroke-width="0.3" >0.99</text>
<path d="M220.60 321.2v-3.6M262.90 321.2v-3.6M305.40 321.2v-3.6M209.7 281.40h3.6M209.7 305.80h3.6" stroke="#1a1a1a" stroke-width="1.3" fill="none"/>
<rect x="257.90" y="276.90" width="6.6" height="6.6" fill="none" stroke="#0000ff" stroke-width="1.0"/>
<text x="276.10" y="284.20" font-size="10.7" text-anchor="start" fill="#000" stroke="#000" stroke-width="0.3" >4.0 mW</text>
<clipPath id="c7"><rect x="63.6" y="358.4" width="106.0" height="47.80000000000001"/></clipPath><g clip-path="url(#c7)">
<path d="M74.30 359.27L79.10 367.27H69.50Z" fill="none" stroke="#0000ff" stroke-width="1.0"/>
<path d="M75.82 351.21L80.62 359.21H71.02Z" fill="none" stroke="#0000ff" stroke-width="1.0"/>
<path d="M77.34 359.04L82.14 367.04H72.54Z" fill="none" stroke="#0000ff" stroke-width="1.0"/>
<path d="M78.87 368.67L83.67 376.67H74.07Z" fill="none" stroke="#0000ff" stroke-width="1.0"/>
<path d="M80.39 374.82L85.19 382.82H75.59Z" fill="none" stroke="#0000ff" stroke-width="1.0"/>
<path d="M81.91 383.31L86.71 391.31H77.11Z" fill="none" stroke="#0000ff" stroke-width="1.0"/>
<path d="M83.43 382.04L88.23 390.04H78.63Z" fill="none" stroke="#0000ff" stroke-width="1.0"/>
<path d="M84.96 394.16L89.76 402.16H80.16Z" fill="none" stroke="#0000ff" stroke-width="1.0"/>
<path d="M86.48 390.38L91.28 398.38H81.68Z" fill="none" stroke="#0000ff" stroke-width="1.0"/>
<path d="M88.00 397.74L92.80 405.74H83.20Z" fill="none" stroke="#0000ff" stroke-width="1.0"/>
<path d="M89.52 388.11L94.32 396.11H84.72Z" fill="none" stroke="#0000ff" stroke-width="1.0"/>
<path d="M91.04 391.62L95.84 399.62H86.24Z" fill="none" stroke="#0000ff" stroke-width="1.0"/>
<path d="M92.57 386.83L97.37 394.83H87.77Z" fill="none" stroke="#0000ff" stroke-width="1.0"/>
<path d="M94.09 385.83L98.89 393.83H89.29Z" fill="none" stroke="#0000ff" stroke-width="1.0"/>
<path d="M95.61 376.08L100.41 384.08H90.81Z" fill="none" stroke="#0000ff" stroke-width="1.0"/>
<path d="M97.13 374.82L101.93 382.82H92.33Z" fill="none" stroke="#0000ff" stroke-width="1.0"/>
<path d="M98.66 365.70L103.46 373.70H93.86Z" fill="none" stroke="#0000ff" stroke-width="1.0"/>
<path d="M100.18 364.29L104.98 372.29H95.38Z" fill="none" stroke="#0000ff" stroke-width="1.0"/>
<path d="M101.70 367.20L106.50 375.20H96.90Z" fill="none" stroke="#0000ff" stroke-width="1.0"/>
<path d="M103.22 364.36L108.02 372.36H98.42Z" fill="none" stroke="#0000ff" stroke-width="1.0"/>
<path d="M104.74 374.72L109.54 382.72H99.94Z" fill="none" stroke="#0000ff" stroke-width="1.0"/>
<path d="M106.27 372.46L111.07 380.46H101.47Z" fill="none" stroke="#0000ff" stroke-width="1.0"/>
<path d="M107.79 376.94L112.59 384.94H102.99Z" fill="none" stroke="#0000ff" stroke-width="1.0"/>
<path d="M109.31 383.94L114.11 391.94H104.51Z" fill="none" stroke="#0000ff" stroke-width="1.0"/>
<path d="M110.83 382.17L115.63 390.17H106.03Z" fill="none" stroke="#0000ff" stroke-width="1.0"/>
<path d="M112.36 386.67L117.16 394.67H107.56Z" fill="none" stroke="#0000ff" stroke-width="1.0"/>
<path d="M113.88 388.05L118.68 396.05H109.08Z" fill="none" stroke="#0000ff" stroke-width="1.0"/>
<path d="M115.40 390.42L120.20 398.42H110.60Z" fill="none" stroke="#0000ff" stroke-width="1.0"/>
<path d="M116.92 389.97L121.72 397.97H112.12Z" fill="none" stroke="#0000ff" stroke-width="1.0"/>
<path d="M118.44 386.44L123.24 394.44H113.64Z" fill="none" stroke="#0000ff" stroke-width="1.0"/>
<path d="M119.97 379.85L124.77 387.85H115.17Z" fill="none" stroke="#0000ff" stroke-width="1.0"/>
<path d="M121.49 381.78L126.29 389.78H116.69Z" fill="none" stroke="#0000ff" stroke-width="1.0"/>
<path d="M123.01 371.63L127.81 379.63H118.21Z" fill="none" stroke="#0000ff" stroke-width="1.0"/>
<path d="M124.53 374.64L129.33 382.64H119.73Z" fill="none" stroke="#0000ff" stroke-width="1.0"/>
<path d="M126.06 372.25L130.86 380.25H121.26Z" fill="none" stroke="#0000ff" stroke-width="1.0"/>
<path d="M127.58 380.06L132.38 388.06H122.78Z" fill="none" stroke="#0000ff" stroke-width="1.0"/>
<path d="M129.10 372.63L133.90 380.63H124.30Z" fill="none" stroke="#0000ff" stroke-width="1.0"/>
<path d="M130.62 374.93L135.42 382.93H125.82Z" fill="none" stroke="#0000ff" stroke-width="1.0"/>
<path d="M132.14 377.06L136.94 385.06H127.34Z" fill="none" stroke="#0000ff" stroke-width="1.0"/>
<path d="M133.67 384.60L138.47 392.60H128.87Z" fill="none" stroke="#0000ff" stroke-width="1.0"/>
<path d="M135.19 378.13L139.99 386.13H130.39Z" fill="none" stroke="#0000ff" stroke-width="1.0"/>
<path d="M136.71 380.24L141.51 388.24H131.91Z" fill="none" stroke="#0000ff" stroke-width="1.0"/>
<path d="M138.23 380.30L143.03 388.30H133.43Z" fill="none" stroke="#0000ff" stroke-width="1.0"/>
<path d="M139.76 387.42L144.56 395.42H134.96Z" fill="none" stroke="#0000ff" stroke-width="1.0"/>
<path d="M141.28 387.13L146.08 395.13H136.48Z" fill="none" stroke="#0000ff" stroke-width="1.0"/>
<path d="M142.80 385.76L147.60 393.76H138.00Z" fill="none" stroke="#0000ff" stroke-width="1.0"/>
<path d="M144.32 386.54L149.12 394.54H139.52Z" fill="none" stroke="#0000ff" stroke-width="1.0"/>
<path d="M145.84 383.79L150.64 391.79H141.04Z" fill="none" stroke="#0000ff" stroke-width="1.0"/>
<path d="M147.37 376.90L152.17 384.90H142.57Z" fill="none" stroke="#0000ff" stroke-width="1.0"/>
<path d="M148.89 382.04L153.69 390.04H144.09Z" fill="none" stroke="#0000ff" stroke-width="1.0"/>
<path d="M150.41 373.66L155.21 381.66H145.61Z" fill="none" stroke="#0000ff" stroke-width="1.0"/>
<path d="M151.93 374.27L156.73 382.27H147.13Z" fill="none" stroke="#0000ff" stroke-width="1.0"/>
<path d="M153.46 374.65L158.26 382.65H148.66Z" fill="none" stroke="#0000ff" stroke-width="1.0"/>
<path d="M154.98 376.73L159.78 384.73H150.18Z" fill="none" stroke="#0000ff" stroke-width="1.0"/>
<path d="M156.50 379.68L161.30 387.68H151.70Z" fill="none" stroke="#0000ff" stroke-width="1.0"/>
<path d="M74.30 360.70 L74.82 360.84 L75.33 361.26 L75.85 361.94 L76.36 362.89 L76.88 364.09 L77.39 365.52 L77.91 367.15 L78.42 368.97 L78.94 370.95 L79.45 373.06 L79.97 375.27 L80.48 377.54 L81.00 379.85 L81.52 382.16 L82.03 384.43 L82.55 386.64 L83.06 388.75 L83.58 390.73 L84.09 392.55 L84.61 394.18 L85.12 395.61 L85.64 396.81 L86.15 397.76 L86.67 398.44 L87.18 398.86 L87.70 399.00 L88.22 398.90 L88.73 398.61 L89.25 398.13 L89.76 397.46 L90.28 396.62 L90.79 395.62 L91.31 394.47 L91.82 393.19 L92.34 391.80 L92.85 390.32 L93.37 388.77 L93.88 387.17 L94.40 385.55 L94.92 383.93 L95.43 382.33 L95.95 380.78 L96.46 379.30 L96.98 377.91 L97.49 376.63 L98.01 375.48 L98.52 374.48 L99.04 373.64 L99.55 372.97 L100.07 372.49 L100.58 372.20 L101.10 372.10 L101.60 372.18 L102.11 372.40 L102.61 372.78 L103.12 373.29 L103.62 373.94 L104.12 374.72 L104.63 375.60 L105.13 376.58 L105.64 377.64 L106.14 378.77 L106.64 379.94 L107.15 381.14 L107.65 382.36 L108.16 383.56 L108.66 384.73 L109.16 385.86 L109.67 386.92 L110.17 387.90 L110.68 388.78 L111.18 389.56 L111.68 390.21 L112.19 390.72 L112.69 391.10 L113.20 391.32 L113.70 391.40 L114.22 391.35 L114.73 391.22 L115.25 390.99 L115.76 390.68 L116.28 390.29 L116.79 389.83 L117.31 389.29 L117.82 388.70 L118.34 388.05 L118.85 387.37 L119.37 386.65 L119.88 385.90 L120.40 385.15 L120.92 384.40 L121.43 383.65 L121.95 382.93 L122.46 382.25 L122.98 381.60 L123.49 381.01 L124.01 380.47 L124.52 380.01 L125.04 379.62 L125.55 379.31 L126.07 379.08 L126.58 378.95 L127.10 378.90 L127.61 378.94 L128.13 379.07 L128.64 379.28 L129.15 379.57 L129.67 379.93 L130.18 380.36 L130.69 380.85 L131.20 381.38 L131.72 381.96 L132.23 382.56 L132.74 383.19 L133.26 383.81 L133.77 384.44 L134.28 385.04 L134.80 385.62 L135.31 386.15 L135.82 386.64 L136.33 387.07 L136.85 387.43 L137.36 387.72 L137.87 387.93 L138.39 388.06 L138.90 388.10 L139.40 388.09 L139.91 388.05 L140.41 387.99 L140.91 387.91 L141.41 387.81 L141.92 387.68 L142.42 387.54 L142.92 387.37 L143.43 387.19 L143.93 386.99 L144.43 386.78 L144.93 386.55 L145.44 386.31 L145.94 386.06 L146.44 385.81 L146.95 385.55 L147.45 385.28 L147.95 385.02 L148.45 384.75 L148.96 384.49 L149.46 384.24 L149.96 383.99 L150.47 383.75 L150.97 383.52 L151.47 383.31 L151.97 383.11 L152.48 382.93 L152.98 382.76 L153.48 382.62 L153.99 382.49 L154.49 382.39 L154.99 382.31 L155.49 382.25 L156.00 382.21 L156.50 382.20" fill="none" stroke="#0000ff" stroke-width="2.9" stroke-linejoin="round"/>
</g>
<rect x="63.6" y="358.4" width="106.0" height="47.80000000000001" fill="none" stroke="#1a1a1a" stroke-width="1.3"/>
<text x="74.30" y="422.90" font-size="16.5" text-anchor="middle" fill="#000" stroke="#000" stroke-width="0.3" >0</text>
<text x="116.20" y="422.90" font-size="16.5" text-anchor="middle" fill="#000" stroke="#000" stroke-width="0.3" >200</text>
<text x="158.50" y="422.90" font-size="16.5" text-anchor="middle" fill="#000" stroke="#000" stroke-width="0.3" >400</text>
<text x="60.40" y="367.20" font-size="16.5" text-anchor="end" fill="#000" stroke="#000" stroke-width="0.3" >1.00</text>
<text x="60.40" y="393.60" font-size="16.5" text-anchor="end" fill="#000" stroke="#000" stroke-width="0.3" >0.99</text>
<path d="M74.30 406.2v-3.6M116.20 406.2v-3.6M158.50 406.2v-3.6M63.6 361.20h3.6M63.6 387.60h3.6" stroke="#1a1a1a" stroke-width="1.3" fill="none"/>
<path d="M115.10 360.10L119.90 368.10H110.30Z" fill="none" stroke="#0000ff" stroke-width="1.0"/>
<text x="130.00" y="368.70" font-size="10.7" text-anchor="start" fill="#000" stroke="#000" stroke-width="0.3" >5.0 mW</text>
<clipPath id="c8"><rect x="209.7" y="358.4" width="106.10000000000002" height="47.80000000000001"/></clipPath><g clip-path="url(#c8)">
<path d="M215.10 363.27L219.90 355.27H210.30Z" fill="none" stroke="#0000ff" stroke-width="1.0"/>
<path d="M216.64 364.28L221.44 356.28H211.84Z" fill="none" stroke="#0000ff" stroke-width="1.0"/>
<path d="M218.17 365.29L222.97 357.29H213.37Z" fill="none" stroke="#0000ff" stroke-width="1.0"/>
<path d="M219.71 374.13L224.51 366.13H214.91Z" fill="none" stroke="#0000ff" stroke-width="1.0"/>
<path d="M221.24 377.93L226.04 369.93H216.44Z" fill="none" stroke="#0000ff" stroke-width="1.0"/>
<path d="M222.78 378.94L227.58 370.94H217.98Z" fill="none" stroke="#0000ff" stroke-width="1.0"/>
<path d="M224.31 388.10L229.11 380.10H219.51Z" fill="none" stroke="#0000ff" stroke-width="1.0"/>
<path d="M225.85 392.45L230.65 384.45H221.05Z" fill="none" stroke="#0000ff" stroke-width="1.0"/>
<path d="M227.38 390.74L232.18 382.74H222.58Z" fill="none" stroke="#0000ff" stroke-width="1.0"/>
<path d="M228.92 404.29L233.72 396.29H224.12Z" fill="none" stroke="#0000ff" stroke-width="1.0"/>
<path d="M230.46 400.19L235.26 392.19H225.66Z" fill="none" stroke="#0000ff" stroke-width="1.0"/>
<path d="M231.99 403.43L236.79 395.43H227.19Z" fill="none" stroke="#0000ff" stroke-width="1.0"/>
<path d="M233.53 409.77L238.33 401.77H228.73Z" fill="none" stroke="#0000ff" stroke-width="1.0"/>
<path d="M235.06 410.65L239.86 402.65H230.26Z" fill="none" stroke="#0000ff" stroke-width="1.0"/>
<path d="M236.60 404.94L241.40 396.94H231.80Z" fill="none" stroke="#0000ff" stroke-width="1.0"/>
<path d="M238.13 404.57L242.93 396.57H233.33Z" fill="none" stroke="#0000ff" stroke-width="1.0"/>
<path d="M239.67 389.39L244.47 381.39H234.87Z" fill="none" stroke="#0000ff" stroke-width="1.0"/>
<path d="M241.21 387.24L246.01 379.24H236.41Z" fill="none" stroke="#0000ff" stroke-width="1.0"/>
<path d="M242.74 382.93L247.54 374.93H237.94Z" fill="none" stroke="#0000ff" stroke-width="1.0"/>
<path d="M244.28 380.32L249.08 372.32H239.48Z" fill="none" stroke="#0000ff" stroke-width="1.0"/>
<path d="M245.81 374.16L250.61 366.16H241.01Z" fill="none" stroke="#0000ff" stroke-width="1.0"/>
<path d="M247.35 378.14L252.15 370.14H242.55Z" fill="none" stroke="#0000ff" stroke-width="1.0"/>
<path d="M248.88 379.04L253.68 371.04H244.08Z" fill="none" stroke="#0000ff" stroke-width="1.0"/>
<path d="M250.42 383.66L255.22 375.66H245.62Z" fill="none" stroke="#0000ff" stroke-width="1.0"/>
<path d="M251.95 379.63L256.75 371.63H247.15Z" fill="none" stroke="#0000ff" stroke-width="1.0"/>
<path d="M253.49 388.39L258.29 380.39H248.69Z" fill="none" stroke="#0000ff" stroke-width="1.0"/>
<path d="M255.03 385.22L259.83 377.22H250.23Z" fill="none" stroke="#0000ff" stroke-width="1.0"/>
<path d="M256.56 391.88L261.36 383.88H251.76Z" fill="none" stroke="#0000ff" stroke-width="1.0"/>
<path d="M258.10 399.97L262.90 391.97H253.30Z" fill="none" stroke="#0000ff" stroke-width="1.0"/>
<path d="M259.63 401.84L264.43 393.84H254.83Z" fill="none" stroke="#0000ff" stroke-width="1.0"/>
<path d="M261.17 396.06L265.97 388.06H256.37Z" fill="none" stroke="#0000ff" stroke-width="1.0"/>
<path d="M262.70 402.48L267.50 394.48H257.90Z" fill="none" stroke="#0000ff" stroke-width="1.0"/>
<path d="M264.24 396.10L269.04 388.10H259.44Z" fill="none" stroke="#0000ff" stroke-width="1.0"/>
<path d="M265.77 389.63L270.57 381.63H260.97Z" fill="none" stroke="#0000ff" stroke-width="1.0"/>
<path d="M267.31 385.31L272.11 377.31H262.51Z" fill="none" stroke="#0000ff" stroke-width="1.0"/>
<path d="M268.85 390.48L273.65 382.48H264.05Z" fill="none" stroke="#0000ff" stroke-width="1.0"/>
<path d="M270.38 386.07L275.18 378.07H265.58Z" fill="none" stroke="#0000ff" stroke-width="1.0"/>
<path d="M271.92 377.80L276.72 369.80H267.12Z" fill="none" stroke="#0000ff" stroke-width="1.0"/>
<path d="M273.45 384.08L278.25 376.08H268.65Z" fill="none" stroke="#0000ff" stroke-width="1.0"/>
<path d="M274.99 382.22L279.79 374.22H270.19Z" fill="none" stroke="#0000ff" stroke-width="1.0"/>
<path d="M276.52 378.87L281.32 370.87H271.72Z" fill="none" stroke="#0000ff" stroke-width="1.0"/>
<path d="M278.06 382.17L282.86 374.17H273.26Z" fill="none" stroke="#0000ff" stroke-width="1.0"/>
<path d="M279.59 387.01L284.39 379.01H274.79Z" fill="none" stroke="#0000ff" stroke-width="1.0"/>
<path d="M281.13 385.81L285.93 377.81H276.33Z" fill="none" stroke="#0000ff" stroke-width="1.0"/>
<path d="M282.67 393.20L287.47 385.20H277.87Z" fill="none" stroke="#0000ff" stroke-width="1.0"/>
<path d="M284.20 396.00L289.00 388.00H279.40Z" fill="none" stroke="#0000ff" stroke-width="1.0"/>
<path d="M285.74 397.63L290.54 389.63H280.94Z" fill="none" stroke="#0000ff" stroke-width="1.0"/>
<path d="M287.27 396.76L292.07 388.76H282.47Z" fill="none" stroke="#0000ff" stroke-width="1.0"/>
<path d="M288.81 396.65L293.61 388.65H284.01Z" fill="none" stroke="#0000ff" stroke-width="1.0"/>
<path d="M290.34 397.28L295.14 389.28H285.54Z" fill="none" stroke="#0000ff" stroke-width="1.0"/>
<path d="M291.88 396.82L296.68 388.82H287.08Z" fill="none" stroke="#0000ff" stroke-width="1.0"/>
<path d="M293.42 394.86L298.22 386.86H288.62Z" fill="none" stroke="#0000ff" stroke-width="1.0"/>
<path d="M294.95 386.00L299.75 378.00H290.15Z" fill="none" stroke="#0000ff" stroke-width="1.0"/>
<path d="M296.49 391.35L301.29 383.35H291.69Z" fill="none" stroke="#0000ff" stroke-width="1.0"/>
<path d="M298.02 385.59L302.82 377.59H293.22Z" fill="none" stroke="#0000ff" stroke-width="1.0"/>
<path d="M299.56 391.28L304.36 383.28H294.76Z" fill="none" stroke="#0000ff" stroke-width="1.0"/>
<path d="M301.09 385.45L305.89 377.45H296.29Z" fill="none" stroke="#0000ff" stroke-width="1.0"/>
<path d="M302.63 387.45L307.43 379.45H297.83Z" fill="none" stroke="#0000ff" stroke-width="1.0"/>
<path d="M304.16 386.79L308.96 378.79H299.36Z" fill="none" stroke="#0000ff" stroke-width="1.0"/>
<path d="M305.70 383.12L310.50 375.12H300.90Z" fill="none" stroke="#0000ff" stroke-width="1.0"/>
<path d="M215.10 362.10 L215.61 362.17 L216.12 362.37 L216.62 362.72 L217.13 363.19 L217.64 363.80 L218.15 364.53 L218.66 365.38 L219.16 366.35 L219.67 367.43 L220.18 368.60 L220.69 369.87 L221.19 371.23 L221.70 372.66 L222.21 374.16 L222.72 375.71 L223.23 377.30 L223.73 378.93 L224.24 380.59 L224.75 382.25 L225.26 383.91 L225.77 385.57 L226.27 387.20 L226.78 388.79 L227.29 390.34 L227.80 391.84 L228.31 393.27 L228.81 394.63 L229.32 395.90 L229.83 397.07 L230.34 398.15 L230.84 399.12 L231.35 399.97 L231.86 400.70 L232.37 401.31 L232.88 401.78 L233.38 402.13 L233.89 402.33 L234.40 402.40 L234.90 402.28 L235.41 401.91 L235.91 401.31 L236.42 400.48 L236.92 399.43 L237.42 398.19 L237.93 396.76 L238.43 395.18 L238.94 393.47 L239.44 391.66 L239.94 389.76 L240.45 387.83 L240.95 385.87 L241.46 383.94 L241.96 382.04 L242.46 380.23 L242.97 378.52 L243.47 376.94 L243.98 375.51 L244.48 374.27 L244.98 373.22 L245.49 372.39 L245.99 371.79 L246.50 371.42 L247.00 371.30 L247.51 371.37 L248.01 371.59 L248.52 371.96 L249.03 372.46 L249.54 373.10 L250.04 373.86 L250.55 374.74 L251.06 375.72 L251.56 376.80 L252.07 377.95 L252.58 379.17 L253.09 380.44 L253.59 381.73 L254.10 383.05 L254.61 384.37 L255.11 385.66 L255.62 386.93 L256.13 388.15 L256.64 389.30 L257.14 390.38 L257.65 391.36 L258.16 392.24 L258.66 393.00 L259.17 393.64 L259.68 394.14 L260.19 394.51 L260.69 394.73 L261.20 394.80 L261.70 394.72 L262.21 394.50 L262.71 394.12 L263.22 393.61 L263.72 392.96 L264.22 392.18 L264.73 391.30 L265.23 390.32 L265.74 389.26 L266.24 388.13 L266.74 386.96 L267.25 385.76 L267.75 384.54 L268.26 383.34 L268.76 382.17 L269.26 381.04 L269.77 379.98 L270.27 379.00 L270.78 378.12 L271.28 377.34 L271.78 376.69 L272.29 376.18 L272.79 375.80 L273.30 375.58 L273.80 375.50 L274.30 375.55 L274.80 375.69 L275.30 375.93 L275.80 376.26 L276.30 376.68 L276.80 377.17 L277.30 377.74 L277.80 378.38 L278.30 379.07 L278.80 379.82 L279.30 380.60 L279.80 381.41 L280.30 382.23 L280.80 383.07 L281.30 383.89 L281.80 384.70 L282.30 385.48 L282.80 386.23 L283.30 386.92 L283.80 387.56 L284.30 388.13 L284.80 388.62 L285.30 389.04 L285.80 389.37 L286.30 389.61 L286.80 389.75 L287.30 389.80 L287.81 389.78 L288.32 389.72 L288.83 389.63 L289.34 389.50 L289.86 389.33 L290.37 389.12 L290.88 388.89 L291.39 388.62 L291.90 388.32 L292.41 388.00 L292.92 387.65 L293.43 387.28 L293.94 386.88 L294.46 386.48 L294.97 386.06 L295.48 385.63 L295.99 385.19 L296.50 384.75 L297.01 384.31 L297.52 383.87 L298.03 383.44 L298.54 383.02 L299.06 382.62 L299.57 382.23 L300.08 381.85 L300.59 381.50 L301.10 381.18 L301.61 380.88 L302.12 380.61 L302.63 380.38 L303.14 380.17 L303.66 380.00 L304.17 379.87 L304.68 379.78 L305.19 379.72 L305.70 379.70" fill="none" stroke="#0000ff" stroke-width="2.9" stroke-linejoin="round"/>
</g>
<rect x="209.7" y="358.4" width="106.10000000000002" height="47.80000000000001" fill="none" stroke="#1a1a1a" stroke-width="1.3"/>
<text x="217.10" y="422.90" font-size="16.5" text-anchor="middle" fill="#000" stroke="#000" stroke-width="0.3" >0</text>
<text x="262.90" y="422.90" font-size="16.5" text-anchor="middle" fill="#000" stroke="#000" stroke-width="0.3" >150</text>
<text x="308.60" y="422.90" font-size="16.5" text-anchor="middle" fill="#000" stroke="#000" stroke-width="0.3" >300</text>
<text x="206.50" y="366.50" font-size="16.5" text-anchor="end" fill="#000" stroke="#000" stroke-width="0.3" >1.00</text>
<text x="206.50" y="390.70" font-size="16.5" text-anchor="end" fill="#000" stroke="#000" stroke-width="0.3" >0.99</text>
<path d="M217.10 406.2v-3.6M262.90 406.2v-3.6M308.60 406.2v-3.6M209.7 360.50h3.6M209.7 384.70h3.6" stroke="#1a1a1a" stroke-width="1.3" fill="none"/>
<path d="M261.20 369.80L266.00 361.80H256.40Z" fill="none" stroke="#0000ff" stroke-width="1.0"/>
<text x="276.10" y="369.20" font-size="10.7" text-anchor="start" fill="#000" stroke="#000" stroke-width="0.3" >6.3 mW</text>
<clipPath id="c9"><rect x="63.6" y="443.3" width="106.0" height="47.80000000000001"/></clipPath><g clip-path="url(#c9)">
<path d="M71.80 450.99L76.10 455.29L71.80 459.59L67.50 455.29Z" fill="none" stroke="#0000ff" stroke-width="1.0"/>
<path d="M73.55 447.92L77.85 452.22L73.55 456.52L69.25 452.22Z" fill="none" stroke="#0000ff" stroke-width="1.0"/>
<path d="M75.29 461.96L79.59 466.26L75.29 470.56L70.99 466.26Z" fill="none" stroke="#0000ff" stroke-width="1.0"/>
<path d="M77.04 467.99L81.34 472.29L77.04 476.59L72.74 472.29Z" fill="none" stroke="#0000ff" stroke-width="1.0"/>
<path d="M78.79 475.14L83.09 479.44L78.79 483.74L74.49 479.44Z" fill="none" stroke="#0000ff" stroke-width="1.0"/>
<path d="M80.53 481.38L84.83 485.68L80.53 489.98L76.23 485.68Z" fill="none" stroke="#0000ff" stroke-width="1.0"/>
<path d="M82.28 484.93L86.58 489.23L82.28 493.53L77.98 489.23Z" fill="none" stroke="#0000ff" stroke-width="1.0"/>
<path d="M84.03 485.07L88.33 489.37L84.03 493.67L79.73 489.37Z" fill="none" stroke="#0000ff" stroke-width="1.0"/>
<path d="M85.78 479.07L90.08 483.37L85.78 487.67L81.48 483.37Z" fill="none" stroke="#0000ff" stroke-width="1.0"/>
<path d="M87.52 478.77L91.82 483.07L87.52 487.37L83.22 483.07Z" fill="none" stroke="#0000ff" stroke-width="1.0"/>
<path d="M89.27 471.92L93.57 476.22L89.27 480.52L84.97 476.22Z" fill="none" stroke="#0000ff" stroke-width="1.0"/>
<path d="M91.02 461.24L95.32 465.54L91.02 469.84L86.72 465.54Z" fill="none" stroke="#0000ff" stroke-width="1.0"/>
<path d="M92.76 461.51L97.06 465.81L92.76 470.11L88.46 465.81Z" fill="none" stroke="#0000ff" stroke-width="1.0"/>
<path d="M94.51 452.55L98.81 456.85L94.51 461.15L90.21 456.85Z" fill="none" stroke="#0000ff" stroke-width="1.0"/>
<path d="M96.26 461.03L100.56 465.33L96.26 469.63L91.96 465.33Z" fill="none" stroke="#0000ff" stroke-width="1.0"/>
<path d="M98.00 457.85L102.30 462.15L98.00 466.45L93.70 462.15Z" fill="none" stroke="#0000ff" stroke-width="1.0"/>
<path d="M99.75 470.86L104.05 475.16L99.75 479.46L95.45 475.16Z" fill="none" stroke="#0000ff" stroke-width="1.0"/>
<path d="M101.50 472.70L105.80 477.00L101.50 481.30L97.20 477.00Z" fill="none" stroke="#0000ff" stroke-width="1.0"/>
<path d="M103.24 479.05L107.54 483.35L103.24 487.65L98.94 483.35Z" fill="none" stroke="#0000ff" stroke-width="1.0"/>
<path d="M104.99 475.00L109.29 479.30L104.99 483.60L100.69 479.30Z" fill="none" stroke="#0000ff" stroke-width="1.0"/>
<path d="M106.74 474.93L111.04 479.23L106.74 483.53L102.44 479.23Z" fill="none" stroke="#0000ff" stroke-width="1.0"/>
<path d="M108.49 479.43L112.79 483.73L108.49 488.03L104.19 483.73Z" fill="none" stroke="#0000ff" stroke-width="1.0"/>
<path d="M110.23 468.60L114.53 472.90L110.23 477.20L105.93 472.90Z" fill="none" stroke="#0000ff" stroke-width="1.0"/>
<path d="M111.98 464.22L116.28 468.52L111.98 472.82L107.68 468.52Z" fill="none" stroke="#0000ff" stroke-width="1.0"/>
<path d="M113.73 467.73L118.03 472.03L113.73 476.33L109.43 472.03Z" fill="none" stroke="#0000ff" stroke-width="1.0"/>
<path d="M115.47 464.09L119.77 468.39L115.47 472.69L111.17 468.39Z" fill="none" stroke="#0000ff" stroke-width="1.0"/>
<path d="M117.22 462.32L121.52 466.62L117.22 470.92L112.92 466.62Z" fill="none" stroke="#0000ff" stroke-width="1.0"/>
<path d="M118.97 458.83L123.27 463.13L118.97 467.43L114.67 463.13Z" fill="none" stroke="#0000ff" stroke-width="1.0"/>
<path d="M120.71 468.13L125.01 472.43L120.71 476.73L116.41 472.43Z" fill="none" stroke="#0000ff" stroke-width="1.0"/>
<path d="M122.46 463.67L126.76 467.97L122.46 472.27L118.16 467.97Z" fill="none" stroke="#0000ff" stroke-width="1.0"/>
<path d="M124.21 472.96L128.51 477.26L124.21 481.56L119.91 477.26Z" fill="none" stroke="#0000ff" stroke-width="1.0"/>
<path d="M125.96 477.58L130.26 481.88L125.96 486.18L121.66 481.88Z" fill="none" stroke="#0000ff" stroke-width="1.0"/>
<path d="M127.70 475.65L132.00 479.95L127.70 484.25L123.40 479.95Z" fill="none" stroke="#0000ff" stroke-width="1.0"/>
<path d="M129.45 471.67L133.75 475.97L129.45 480.27L125.15 475.97Z" fill="none" stroke="#0000ff" stroke-width="1.0"/>
<path d="M131.20 475.81L135.50 480.11L131.20 484.41L126.90 480.11Z" fill="none" stroke="#0000ff" stroke-width="1.0"/>
<path d="M132.94 471.03L137.24 475.33L132.94 479.63L128.64 475.33Z" fill="none" stroke="#0000ff" stroke-width="1.0"/>
<path d="M134.69 467.74L138.99 472.04L134.69 476.34L130.39 472.04Z" fill="none" stroke="#0000ff" stroke-width="1.0"/>
<path d="M136.44 470.77L140.74 475.07L136.44 479.37L132.14 475.07Z" fill="none" stroke="#0000ff" stroke-width="1.0"/>
<path d="M138.18 463.99L142.48 468.29L138.18 472.59L133.88 468.29Z" fill="none" stroke="#0000ff" stroke-width="1.0"/>
<path d="M139.93 469.76L144.23 474.06L139.93 478.36L135.63 474.06Z" fill="none" stroke="#0000ff" stroke-width="1.0"/>
<path d="M141.68 467.36L145.98 471.66L141.68 475.96L137.38 471.66Z" fill="none" stroke="#0000ff" stroke-width="1.0"/>
<path d="M143.42 468.79L147.72 473.09L143.42 477.39L139.12 473.09Z" fill="none" stroke="#0000ff" stroke-width="1.0"/>
<path d="M145.17 463.68L149.47 467.98L145.17 472.28L140.87 467.98Z" fill="none" stroke="#0000ff" stroke-width="1.0"/>
<path d="M146.92 471.28L151.22 475.58L146.92 479.88L142.62 475.58Z" fill="none" stroke="#0000ff" stroke-width="1.0"/>
<path d="M148.67 473.35L152.97 477.65L148.67 481.95L144.37 477.65Z" fill="none" stroke="#0000ff" stroke-width="1.0"/>
<path d="M150.41 471.39L154.71 475.69L150.41 479.99L146.11 475.69Z" fill="none" stroke="#0000ff" stroke-width="1.0"/>
<path d="M152.16 470.31L156.46 474.61L152.16 478.91L147.86 474.61Z" fill="none" stroke="#0000ff" stroke-width="1.0"/>
<path d="M153.91 472.26L158.21 476.56L153.91 480.86L149.61 476.56Z" fill="none" stroke="#0000ff" stroke-width="1.0"/>
<path d="M155.65 468.53L159.95 472.83L155.65 477.13L151.35 472.83Z" fill="none" stroke="#0000ff" stroke-width="1.0"/>
<path d="M157.40 466.47L161.70 470.77L157.40 475.07L153.10 470.77Z" fill="none" stroke="#0000ff" stroke-width="1.0"/>
<path d="M71.80 453.80 L72.31 453.96 L72.82 454.42 L73.33 455.19 L73.83 456.25 L74.34 457.57 L74.85 459.13 L75.36 460.91 L75.87 462.87 L76.38 464.97 L76.89 467.18 L77.40 469.45 L77.90 471.75 L78.41 474.02 L78.92 476.23 L79.43 478.33 L79.94 480.29 L80.45 482.07 L80.96 483.63 L81.47 484.95 L81.97 486.01 L82.48 486.78 L82.99 487.24 L83.50 487.40 L84.02 487.26 L84.54 486.84 L85.06 486.15 L85.58 485.21 L86.10 484.04 L86.61 482.66 L87.13 481.10 L87.65 479.40 L88.17 477.60 L88.69 475.74 L89.21 473.86 L89.73 472.00 L90.25 470.20 L90.77 468.50 L91.29 466.94 L91.80 465.56 L92.32 464.39 L92.84 463.45 L93.36 462.76 L93.88 462.34 L94.40 462.20 L94.91 462.29 L95.43 462.56 L95.94 463.00 L96.45 463.60 L96.97 464.36 L97.48 465.26 L97.99 466.29 L98.50 467.41 L99.02 468.62 L99.53 469.89 L100.04 471.19 L100.56 472.51 L101.07 473.81 L101.58 475.08 L102.10 476.29 L102.61 477.41 L103.12 478.44 L103.63 479.34 L104.15 480.10 L104.66 480.70 L105.17 481.14 L105.69 481.41 L106.20 481.50 L106.72 481.42 L107.24 481.16 L107.76 480.75 L108.28 480.19 L108.80 479.48 L109.31 478.66 L109.83 477.73 L110.35 476.71 L110.87 475.63 L111.39 474.51 L111.91 473.39 L112.43 472.27 L112.95 471.19 L113.47 470.18 L113.99 469.24 L114.50 468.42 L115.02 467.71 L115.54 467.15 L116.06 466.74 L116.58 466.48 L117.10 466.40 L117.61 466.45 L118.12 466.62 L118.63 466.88 L119.13 467.25 L119.64 467.71 L120.15 468.26 L120.66 468.88 L121.17 469.56 L121.68 470.29 L122.19 471.06 L122.70 471.85 L123.20 472.65 L123.71 473.44 L124.22 474.21 L124.73 474.94 L125.24 475.62 L125.75 476.24 L126.26 476.79 L126.77 477.25 L127.27 477.62 L127.78 477.88 L128.29 478.05 L128.80 478.10 L129.31 478.05 L129.81 477.89 L130.31 477.64 L130.82 477.30 L131.33 476.87 L131.83 476.37 L132.34 475.81 L132.84 475.20 L133.34 474.56 L133.85 473.90 L134.36 473.24 L134.86 472.60 L135.37 471.99 L135.87 471.43 L136.38 470.93 L136.88 470.50 L137.39 470.16 L137.89 469.91 L138.40 469.75 L138.90 469.70 L139.40 469.71 L139.90 469.73 L140.40 469.77 L140.90 469.82 L141.40 469.89 L141.90 469.97 L142.40 470.06 L142.90 470.17 L143.40 470.28 L143.90 470.41 L144.40 470.55 L144.90 470.70 L145.40 470.85 L145.90 471.02 L146.40 471.19 L146.90 471.36 L147.40 471.53 L147.90 471.71 L148.40 471.89 L148.90 472.07 L149.40 472.24 L149.90 472.41 L150.40 472.58 L150.90 472.75 L151.40 472.90 L151.90 473.05 L152.40 473.19 L152.90 473.32 L153.40 473.43 L153.90 473.54 L154.40 473.63 L154.90 473.71 L155.40 473.78 L155.90 473.83 L156.40 473.87 L156.90 473.89 L157.40 473.90" fill="none" stroke="#0000ff" stroke-width="2.9" stroke-linejoin="round"/>
</g>
<rect x="63.6" y="443.3" width="106.0" height="47.80000000000001" fill="none" stroke="#1a1a1a" stroke-width="1.3"/>
<text x="70.60" y="507.80" font-size="16.5" text-anchor="middle" fill="#000" stroke="#000" stroke-width="0.3" >0</text>
<text x="115.90" y="507.80" font-size="16.5" text-anchor="middle" fill="#000" stroke="#000" stroke-width="0.3" >150</text>
<text x="161.60" y="507.80" font-size="16.5" text-anchor="middle" fill="#000" stroke="#000" stroke-width="0.3" >300</text>
<text x="60.40" y="459.00" font-size="16.5" text-anchor="end" fill="#000" stroke="#000" stroke-width="0.3" >1.00</text>
<text x="60.40" y="478.30" font-size="16.5" text-anchor="end" fill="#000" stroke="#000" stroke-width="0.3" >0.99</text>
<path d="M70.60 491.1v-3.6M115.90 491.1v-3.6M161.60 491.1v-3.6M63.6 453.00h3.6M63.6 472.30h3.6" stroke="#1a1a1a" stroke-width="1.3" fill="none"/>
<path d="M114.10 447.00L118.40 451.30L114.10 455.60L109.80 451.30Z" fill="none" stroke="#0000ff" stroke-width="1.0"/>
<text x="129.50" y="455.30" font-size="10.7" text-anchor="start" fill="#000" stroke="#000" stroke-width="0.3" >7.9 mW</text>
<clipPath id="c10"><rect x="209.7" y="443.3" width="106.10000000000002" height="47.80000000000001"/></clipPath><g clip-path="url(#c10)">
<polygon points="218.80,448.06 222.52,450.21 222.52,454.51 218.80,456.66 215.08,454.51 215.08,450.21" fill="none" stroke="#0000ff" stroke-width="1.0"/>
<polygon points="220.56,446.01 224.28,448.16 224.28,452.46 220.56,454.61 216.83,452.46 216.83,448.16" fill="none" stroke="#0000ff" stroke-width="1.0"/>
<polygon points="222.31,452.69 226.04,454.84 226.04,459.14 222.31,461.29 218.59,459.14 218.59,454.84" fill="none" stroke="#0000ff" stroke-width="1.0"/>
<polygon points="224.07,465.47 227.80,467.62 227.80,471.92 224.07,474.07 220.35,471.92 220.35,467.62" fill="none" stroke="#0000ff" stroke-width="1.0"/>
<polygon points="225.83,469.54 229.55,471.69 229.55,475.99 225.83,478.14 222.10,475.99 222.10,471.69" fill="none" stroke="#0000ff" stroke-width="1.0"/>
<polygon points="227.59,482.33 231.31,484.48 231.31,488.78 227.59,490.93 223.86,488.78 223.86,484.48" fill="none" stroke="#0000ff" stroke-width="1.0"/>
<polygon points="229.34,485.42 233.07,487.57 233.07,491.87 229.34,494.02 225.62,491.87 225.62,487.57" fill="none" stroke="#0000ff" stroke-width="1.0"/>
<polygon points="231.10,475.49 234.82,477.64 234.82,481.94 231.10,484.09 227.38,481.94 227.38,477.64" fill="none" stroke="#0000ff" stroke-width="1.0"/>
<polygon points="232.86,474.78 236.58,476.93 236.58,481.23 232.86,483.38 229.13,481.23 229.13,476.93" fill="none" stroke="#0000ff" stroke-width="1.0"/>
<polygon points="234.61,468.58 238.34,470.73 238.34,475.03 234.61,477.18 230.89,475.03 230.89,470.73" fill="none" stroke="#0000ff" stroke-width="1.0"/>
<polygon points="236.37,463.73 240.10,465.88 240.10,470.18 236.37,472.33 232.65,470.18 232.65,465.88" fill="none" stroke="#0000ff" stroke-width="1.0"/>
<polygon points="238.13,461.15 241.85,463.30 241.85,467.60 238.13,469.75 234.40,467.60 234.40,463.30" fill="none" stroke="#0000ff" stroke-width="1.0"/>
<polygon points="239.89,453.15 243.61,455.30 243.61,459.60 239.89,461.75 236.16,459.60 236.16,455.30" fill="none" stroke="#0000ff" stroke-width="1.0"/>
<polygon points="241.64,457.84 245.37,459.99 245.37,464.29 241.64,466.44 237.92,464.29 237.92,459.99" fill="none" stroke="#0000ff" stroke-width="1.0"/>
<polygon points="243.40,467.72 247.12,469.87 247.12,474.17 243.40,476.32 239.68,474.17 239.68,469.87" fill="none" stroke="#0000ff" stroke-width="1.0"/>
<polygon points="245.16,474.23 248.88,476.38 248.88,480.68 245.16,482.83 241.43,480.68 241.43,476.38" fill="none" stroke="#0000ff" stroke-width="1.0"/>
<polygon points="246.91,469.16 250.64,471.31 250.64,475.61 246.91,477.76 243.19,475.61 243.19,471.31" fill="none" stroke="#0000ff" stroke-width="1.0"/>
<polygon points="248.67,474.74 252.40,476.89 252.40,481.19 248.67,483.34 244.95,481.19 244.95,476.89" fill="none" stroke="#0000ff" stroke-width="1.0"/>
<polygon points="250.43,467.58 254.15,469.73 254.15,474.03 250.43,476.18 246.70,474.03 246.70,469.73" fill="none" stroke="#0000ff" stroke-width="1.0"/>
<polygon points="252.19,466.32 255.91,468.47 255.91,472.77 252.19,474.92 248.46,472.77 248.46,468.47" fill="none" stroke="#0000ff" stroke-width="1.0"/>
<polygon points="253.94,465.67 257.67,467.82 257.67,472.12 253.94,474.27 250.22,472.12 250.22,467.82" fill="none" stroke="#0000ff" stroke-width="1.0"/>
<polygon points="255.70,469.89 259.42,472.04 259.42,476.34 255.70,478.49 251.98,476.34 251.98,472.04" fill="none" stroke="#0000ff" stroke-width="1.0"/>
<polygon points="257.46,460.49 261.18,462.64 261.18,466.94 257.46,469.09 253.73,466.94 253.73,462.64" fill="none" stroke="#0000ff" stroke-width="1.0"/>
<polygon points="259.21,468.30 262.94,470.45 262.94,474.75 259.21,476.90 255.49,474.75 255.49,470.45" fill="none" stroke="#0000ff" stroke-width="1.0"/>
<polygon points="260.97,469.33 264.70,471.48 264.70,475.78 260.97,477.93 257.25,475.78 257.25,471.48" fill="none" stroke="#0000ff" stroke-width="1.0"/>
<polygon points="262.73,469.43 266.45,471.58 266.45,475.88 262.73,478.03 259.00,475.88 259.00,471.58" fill="none" stroke="#0000ff" stroke-width="1.0"/>
<polygon points="264.49,470.33 268.21,472.48 268.21,476.78 264.49,478.93 260.76,476.78 260.76,472.48" fill="none" stroke="#0000ff" stroke-width="1.0"/>
<polygon points="266.24,472.27 269.97,474.42 269.97,478.72 266.24,480.87 262.52,478.72 262.52,474.42" fill="none" stroke="#0000ff" stroke-width="1.0"/>
<polygon points="268.00,474.35 271.72,476.50 271.72,480.80 268.00,482.95 264.28,480.80 264.28,476.50" fill="none" stroke="#0000ff" stroke-width="1.0"/>
<polygon points="269.76,469.71 273.48,471.86 273.48,476.16 269.76,478.31 266.03,476.16 266.03,471.86" fill="none" stroke="#0000ff" stroke-width="1.0"/>
<polygon points="271.51,465.80 275.24,467.95 275.24,472.25 271.51,474.40 267.79,472.25 267.79,467.95" fill="none" stroke="#0000ff" stroke-width="1.0"/>
<polygon points="273.27,469.41 277.00,471.56 277.00,475.86 273.27,478.01 269.55,475.86 269.55,471.56" fill="none" stroke="#0000ff" stroke-width="1.0"/>
<polygon points="275.03,467.80 278.75,469.95 278.75,474.25 275.03,476.40 271.30,474.25 271.30,469.95" fill="none" stroke="#0000ff" stroke-width="1.0"/>
<polygon points="276.79,471.78 280.51,473.93 280.51,478.23 276.79,480.38 273.06,478.23 273.06,473.93" fill="none" stroke="#0000ff" stroke-width="1.0"/>
<polygon points="278.54,467.69 282.27,469.84 282.27,474.14 278.54,476.29 274.82,474.14 274.82,469.84" fill="none" stroke="#0000ff" stroke-width="1.0"/>
<polygon points="280.30,464.87 284.02,467.02 284.02,471.32 280.30,473.47 276.58,471.32 276.58,467.02" fill="none" stroke="#0000ff" stroke-width="1.0"/>
<polygon points="282.06,466.14 285.78,468.29 285.78,472.59 282.06,474.74 278.33,472.59 278.33,468.29" fill="none" stroke="#0000ff" stroke-width="1.0"/>
<polygon points="283.81,471.30 287.54,473.45 287.54,477.75 283.81,479.90 280.09,477.75 280.09,473.45" fill="none" stroke="#0000ff" stroke-width="1.0"/>
<polygon points="285.57,471.62 289.30,473.77 289.30,478.07 285.57,480.22 281.85,478.07 281.85,473.77" fill="none" stroke="#0000ff" stroke-width="1.0"/>
<polygon points="287.33,464.70 291.05,466.85 291.05,471.15 287.33,473.30 283.60,471.15 283.60,466.85" fill="none" stroke="#0000ff" stroke-width="1.0"/>
<polygon points="289.09,467.36 292.81,469.51 292.81,473.81 289.09,475.96 285.36,473.81 285.36,469.51" fill="none" stroke="#0000ff" stroke-width="1.0"/>
<polygon points="290.84,472.60 294.57,474.75 294.57,479.05 290.84,481.20 287.12,479.05 287.12,474.75" fill="none" stroke="#0000ff" stroke-width="1.0"/>
<polygon points="292.60,464.18 296.32,466.33 296.32,470.63 292.60,472.78 288.88,470.63 288.88,466.33" fill="none" stroke="#0000ff" stroke-width="1.0"/>
<polygon points="294.36,462.79 298.08,464.94 298.08,469.24 294.36,471.39 290.63,469.24 290.63,464.94" fill="none" stroke="#0000ff" stroke-width="1.0"/>
<polygon points="296.11,471.97 299.84,474.12 299.84,478.42 296.11,480.57 292.39,478.42 292.39,474.12" fill="none" stroke="#0000ff" stroke-width="1.0"/>
<polygon points="297.87,468.75 301.60,470.90 301.60,475.20 297.87,477.35 294.15,475.20 294.15,470.90" fill="none" stroke="#0000ff" stroke-width="1.0"/>
<polygon points="299.63,464.54 303.35,466.69 303.35,470.99 299.63,473.14 295.90,470.99 295.90,466.69" fill="none" stroke="#0000ff" stroke-width="1.0"/>
<polygon points="301.39,470.94 305.11,473.09 305.11,477.39 301.39,479.54 297.66,477.39 297.66,473.09" fill="none" stroke="#0000ff" stroke-width="1.0"/>
<polygon points="303.14,463.53 306.87,465.68 306.87,469.98 303.14,472.13 299.42,469.98 299.42,465.68" fill="none" stroke="#0000ff" stroke-width="1.0"/>
<polygon points="304.90,466.86 308.62,469.01 308.62,473.31 304.90,475.46 301.18,473.31 301.18,469.01" fill="none" stroke="#0000ff" stroke-width="1.0"/>
<path d="M218.80 449.60 L219.31 449.85 L219.82 450.58 L220.33 451.78 L220.84 453.41 L221.35 455.43 L221.86 457.78 L222.37 460.40 L222.88 463.22 L223.39 466.16 L223.91 469.14 L224.42 472.08 L224.93 474.90 L225.44 477.52 L225.95 479.87 L226.46 481.89 L226.97 483.52 L227.48 484.72 L227.99 485.45 L228.50 485.70 L229.00 485.55 L229.51 485.10 L230.01 484.37 L230.52 483.37 L231.03 482.13 L231.53 480.67 L232.03 479.04 L232.54 477.27 L233.04 475.41 L233.55 473.50 L234.06 471.59 L234.56 469.73 L235.06 467.96 L235.57 466.33 L236.07 464.87 L236.58 463.63 L237.09 462.63 L237.59 461.90 L238.09 461.45 L238.60 461.30 L239.11 461.42 L239.62 461.78 L240.13 462.37 L240.64 463.17 L241.16 464.16 L241.67 465.30 L242.18 466.56 L242.69 467.91 L243.20 469.30 L243.71 470.69 L244.22 472.04 L244.73 473.30 L245.24 474.44 L245.76 475.43 L246.27 476.23 L246.78 476.82 L247.29 477.18 L247.80 477.30 L248.31 477.24 L248.81 477.05 L249.31 476.75 L249.82 476.34 L250.32 475.82 L250.83 475.22 L251.34 474.54 L251.84 473.81 L252.34 473.04 L252.85 472.25 L253.35 471.46 L253.86 470.69 L254.36 469.96 L254.87 469.28 L255.38 468.68 L255.88 468.16 L256.38 467.75 L256.89 467.45 L257.39 467.26 L257.90 467.20 L258.41 467.25 L258.92 467.40 L259.43 467.65 L259.94 467.98 L260.46 468.40 L260.97 468.88 L261.48 469.40 L261.99 469.97 L262.50 470.55 L263.01 471.13 L263.52 471.70 L264.03 472.22 L264.54 472.70 L265.06 473.12 L265.57 473.45 L266.08 473.70 L266.59 473.85 L267.10 473.90 L267.60 473.90 L268.11 473.90 L268.61 473.89 L269.12 473.88 L269.62 473.87 L270.12 473.86 L270.63 473.85 L271.13 473.83 L271.64 473.81 L272.14 473.79 L272.64 473.77 L273.15 473.75 L273.65 473.72 L274.16 473.69 L274.66 473.66 L275.16 473.63 L275.67 473.60 L276.17 473.56 L276.68 473.52 L277.18 473.49 L277.68 473.45 L278.19 473.41 L278.69 473.36 L279.20 473.32 L279.70 473.27 L280.20 473.23 L280.71 473.18 L281.21 473.13 L281.72 473.09 L282.22 473.04 L282.72 472.99 L283.23 472.94 L283.73 472.88 L284.24 472.83 L284.74 472.78 L285.24 472.73 L285.75 472.68 L286.25 472.62 L286.76 472.57 L287.26 472.52 L287.76 472.47 L288.27 472.42 L288.77 472.36 L289.28 472.31 L289.78 472.26 L290.28 472.21 L290.79 472.17 L291.29 472.12 L291.80 472.07 L292.30 472.02 L292.80 471.98 L293.31 471.94 L293.81 471.89 L294.32 471.85 L294.82 471.81 L295.32 471.78 L295.83 471.74 L296.33 471.70 L296.84 471.67 L297.34 471.64 L297.84 471.61 L298.35 471.58 L298.85 471.55 L299.36 471.53 L299.86 471.51 L300.36 471.49 L300.87 471.47 L301.37 471.45 L301.88 471.44 L302.38 471.43 L302.88 471.42 L303.39 471.41 L303.89 471.40 L304.40 471.40 L304.90 471.40" fill="none" stroke="#0000ff" stroke-width="2.9" stroke-linejoin="round"/>
</g>
<rect x="209.7" y="443.3" width="106.10000000000002" height="47.80000000000001" fill="none" stroke="#1a1a1a" stroke-width="1.3"/>
<text x="217.10" y="507.80" font-size="16.5" text-anchor="middle" fill="#000" stroke="#000" stroke-width="0.3" >0</text>
<text x="262.90" y="507.80" font-size="16.5" text-anchor="middle" fill="#000" stroke="#000" stroke-width="0.3" >150</text>
<text x="308.60" y="507.80" font-size="16.5" text-anchor="middle" fill="#000" stroke="#000" stroke-width="0.3" >300</text>
<text x="206.50" y="453.40" font-size="16.5" text-anchor="end" fill="#000" stroke="#000" stroke-width="0.3" >1.00</text>
<text x="206.50" y="492.20" font-size="16.5" text-anchor="end" fill="#000" stroke="#000" stroke-width="0.3" >0.98</text>
<path d="M217.10 491.1v-3.6M262.90 491.1v-3.6M308.60 491.1v-3.6M209.7 447.40h3.6M209.7 486.20h3.6" stroke="#1a1a1a" stroke-width="1.3" fill="none"/>
<polygon points="256.20,445.40 259.92,447.55 259.92,451.85 256.20,454.00 252.48,451.85 252.48,447.55" fill="none" stroke="#0000ff" stroke-width="1.0"/>
<text x="271.90" y="453.70" font-size="10.7" text-anchor="start" fill="#000" stroke="#000" stroke-width="0.3" >10.0 mW</text>
<clipPath id="c11"><rect x="63.6" y="527.5" width="106.0" height="47.89999999999998"/></clipPath><g clip-path="url(#c11)">
<circle cx="71.60" cy="532.87" r="3.7" fill="none" stroke="#ff8000" stroke-width="1.0"/>
<circle cx="73.02" cy="535.13" r="3.7" fill="none" stroke="#ff8000" stroke-width="1.0"/>
<circle cx="74.44" cy="535.49" r="3.7" fill="none" stroke="#ff8000" stroke-width="1.0"/>
<circle cx="75.87" cy="536.30" r="3.7" fill="none" stroke="#ff8000" stroke-width="1.0"/>
<circle cx="77.29" cy="538.02" r="3.7" fill="none" stroke="#ff8000" stroke-width="1.0"/>
<circle cx="78.71" cy="540.97" r="3.7" fill="none" stroke="#ff8000" stroke-width="1.0"/>
<circle cx="80.13" cy="540.55" r="3.7" fill="none" stroke="#ff8000" stroke-width="1.0"/>
<circle cx="81.55" cy="543.26" r="3.7" fill="none" stroke="#ff8000" stroke-width="1.0"/>
<circle cx="82.98" cy="546.74" r="3.7" fill="none" stroke="#ff8000" stroke-width="1.0"/>
<circle cx="84.40" cy="552.18" r="3.7" fill="none" stroke="#ff8000" stroke-width="1.0"/>
<circle cx="85.82" cy="555.85" r="3.7" fill="none" stroke="#ff8000" stroke-width="1.0"/>
<circle cx="87.24" cy="559.24" r="3.7" fill="none" stroke="#ff8000" stroke-width="1.0"/>
<circle cx="88.66" cy="562.19" r="3.7" fill="none" stroke="#ff8000" stroke-width="1.0"/>
<circle cx="90.09" cy="565.39" r="3.7" fill="none" stroke="#ff8000" stroke-width="1.0"/>
<circle cx="91.51" cy="568.20" r="3.7" fill="none" stroke="#ff8000" stroke-width="1.0"/>
<circle cx="92.93" cy="568.02" r="3.7" fill="none" stroke="#ff8000" stroke-width="1.0"/>
<circle cx="94.35" cy="570.67" r="3.7" fill="none" stroke="#ff8000" stroke-width="1.0"/>
<circle cx="95.77" cy="572.20" r="3.7" fill="none" stroke="#ff8000" stroke-width="1.0"/>
<circle cx="97.20" cy="571.96" r="3.7" fill="none" stroke="#ff8000" stroke-width="1.0"/>
<circle cx="98.62" cy="571.70" r="3.7" fill="none" stroke="#ff8000" stroke-width="1.0"/>
<circle cx="100.04" cy="570.18" r="3.7" fill="none" stroke="#ff8000" stroke-width="1.0"/>
<circle cx="101.46" cy="568.46" r="3.7" fill="none" stroke="#ff8000" stroke-width="1.0"/>
<circle cx="102.88" cy="569.62" r="3.7" fill="none" stroke="#ff8000" stroke-width="1.0"/>
<circle cx="104.31" cy="566.05" r="3.7" fill="none" stroke="#ff8000" stroke-width="1.0"/>
<circle cx="105.73" cy="567.45" r="3.7" fill="none" stroke="#ff8000" stroke-width="1.0"/>
<circle cx="107.15" cy="563.42" r="3.7" fill="none" stroke="#ff8000" stroke-width="1.0"/>
<circle cx="108.57" cy="561.79" r="3.7" fill="none" stroke="#ff8000" stroke-width="1.0"/>
<circle cx="109.99" cy="562.34" r="3.7" fill="none" stroke="#ff8000" stroke-width="1.0"/>
<circle cx="111.42" cy="561.62" r="3.7" fill="none" stroke="#ff8000" stroke-width="1.0"/>
<circle cx="112.84" cy="558.86" r="3.7" fill="none" stroke="#ff8000" stroke-width="1.0"/>
<circle cx="114.26" cy="557.82" r="3.7" fill="none" stroke="#ff8000" stroke-width="1.0"/>
<circle cx="115.68" cy="554.38" r="3.7" fill="none" stroke="#ff8000" stroke-width="1.0"/>
<circle cx="117.11" cy="553.40" r="3.7" fill="none" stroke="#ff8000" stroke-width="1.0"/>
<circle cx="118.53" cy="555.17" r="3.7" fill="none" stroke="#ff8000" stroke-width="1.0"/>
<circle cx="119.95" cy="551.70" r="3.7" fill="none" stroke="#ff8000" stroke-width="1.0"/>
<circle cx="121.37" cy="554.65" r="3.7" fill="none" stroke="#ff8000" stroke-width="1.0"/>
<circle cx="122.79" cy="551.51" r="3.7" fill="none" stroke="#ff8000" stroke-width="1.0"/>
<circle cx="124.22" cy="552.67" r="3.7" fill="none" stroke="#ff8000" stroke-width="1.0"/>
<circle cx="125.64" cy="554.03" r="3.7" fill="none" stroke="#ff8000" stroke-width="1.0"/>
<circle cx="127.06" cy="552.31" r="3.7" fill="none" stroke="#ff8000" stroke-width="1.0"/>
<circle cx="128.48" cy="555.79" r="3.7" fill="none" stroke="#ff8000" stroke-width="1.0"/>
<circle cx="129.90" cy="557.86" r="3.7" fill="none" stroke="#ff8000" stroke-width="1.0"/>
<circle cx="131.33" cy="557.24" r="3.7" fill="none" stroke="#ff8000" stroke-width="1.0"/>
<circle cx="132.75" cy="556.27" r="3.7" fill="none" stroke="#ff8000" stroke-width="1.0"/>
<circle cx="134.17" cy="558.80" r="3.7" fill="none" stroke="#ff8000" stroke-width="1.0"/>
<circle cx="135.59" cy="557.57" r="3.7" fill="none" stroke="#ff8000" stroke-width="1.0"/>
<circle cx="137.01" cy="557.95" r="3.7" fill="none" stroke="#ff8000" stroke-width="1.0"/>
<circle cx="138.44" cy="557.54" r="3.7" fill="none" stroke="#ff8000" stroke-width="1.0"/>
<circle cx="139.86" cy="557.81" r="3.7" fill="none" stroke="#ff8000" stroke-width="1.0"/>
<circle cx="141.28" cy="558.79" r="3.7" fill="none" stroke="#ff8000" stroke-width="1.0"/>
<circle cx="142.70" cy="558.61" r="3.7" fill="none" stroke="#ff8000" stroke-width="1.0"/>
<circle cx="144.12" cy="557.98" r="3.7" fill="none" stroke="#ff8000" stroke-width="1.0"/>
<circle cx="145.55" cy="556.89" r="3.7" fill="none" stroke="#ff8000" stroke-width="1.0"/>
<circle cx="146.97" cy="556.03" r="3.7" fill="none" stroke="#ff8000" stroke-width="1.0"/>
<circle cx="148.39" cy="558.16" r="3.7" fill="none" stroke="#ff8000" stroke-width="1.0"/>
<circle cx="149.81" cy="558.15" r="3.7" fill="none" stroke="#ff8000" stroke-width="1.0"/>
<circle cx="151.23" cy="556.99" r="3.7" fill="none" stroke="#ff8000" stroke-width="1.0"/>
<circle cx="152.66" cy="554.55" r="3.7" fill="none" stroke="#ff8000" stroke-width="1.0"/>
<circle cx="154.08" cy="556.92" r="3.7" fill="none" stroke="#ff8000" stroke-width="1.0"/>
<circle cx="155.50" cy="553.46" r="3.7" fill="none" stroke="#ff8000" stroke-width="1.0"/>
<path d="M70.10 532.10 L70.60 532.13 L71.10 532.24 L71.60 532.41 L72.10 532.65 L72.60 532.95 L73.10 533.32 L73.60 533.76 L74.10 534.26 L74.60 534.82 L75.10 535.44 L75.60 536.11 L76.10 536.84 L76.60 537.62 L77.10 538.45 L77.60 539.32 L78.10 540.24 L78.60 541.20 L79.10 542.19 L79.60 543.21 L80.10 544.27 L80.60 545.34 L81.10 546.44 L81.60 547.55 L82.10 548.68 L82.60 549.81 L83.10 550.95 L83.60 552.09 L84.10 553.22 L84.60 554.35 L85.10 555.46 L85.60 556.56 L86.10 557.63 L86.60 558.69 L87.10 559.71 L87.60 560.70 L88.10 561.66 L88.60 562.58 L89.10 563.45 L89.60 564.28 L90.10 565.06 L90.60 565.79 L91.10 566.46 L91.60 567.08 L92.10 567.64 L92.60 568.14 L93.10 568.58 L93.60 568.95 L94.10 569.25 L94.60 569.49 L95.10 569.66 L95.60 569.77 L96.10 569.80 L96.60 569.78 L97.10 569.72 L97.60 569.62 L98.10 569.49 L98.60 569.31 L99.10 569.10 L99.60 568.85 L100.10 568.57 L100.60 568.26 L101.10 567.91 L101.60 567.53 L102.10 567.12 L102.60 566.68 L103.10 566.22 L103.60 565.74 L104.10 565.23 L104.60 564.70 L105.10 564.16 L105.60 563.61 L106.10 563.04 L106.60 562.46 L107.10 561.88 L107.60 561.29 L108.10 560.71 L108.60 560.12 L109.10 559.54 L109.60 558.96 L110.10 558.39 L110.60 557.84 L111.10 557.30 L111.60 556.77 L112.10 556.26 L112.60 555.78 L113.10 555.32 L113.60 554.88 L114.10 554.47 L114.60 554.09 L115.10 553.74 L115.60 553.43 L116.10 553.15 L116.60 552.90 L117.10 552.69 L117.60 552.51 L118.10 552.38 L118.60 552.28 L119.10 552.22 L119.60 552.20 L120.11 552.21 L120.62 552.25 L121.12 552.30 L121.63 552.38 L122.14 552.48 L122.65 552.60 L123.16 552.75 L123.66 552.91 L124.17 553.09 L124.68 553.28 L125.19 553.49 L125.69 553.72 L126.20 553.96 L126.71 554.20 L127.22 554.46 L127.73 554.73 L128.23 555.00 L128.74 555.27 L129.25 555.55 L129.76 555.83 L130.27 556.10 L130.77 556.37 L131.28 556.64 L131.79 556.90 L132.30 557.14 L132.81 557.38 L133.31 557.61 L133.82 557.82 L134.33 558.01 L134.84 558.19 L135.34 558.35 L135.85 558.50 L136.36 558.62 L136.87 558.72 L137.38 558.80 L137.88 558.85 L138.39 558.89 L138.90 558.90 L139.40 558.89 L139.91 558.85 L140.41 558.80 L140.91 558.72 L141.42 558.62 L141.92 558.50 L142.42 558.36 L142.93 558.21 L143.43 558.03 L143.93 557.85 L144.44 557.65 L144.94 557.45 L145.44 557.24 L145.95 557.02 L146.45 556.80 L146.95 556.58 L147.46 556.36 L147.96 556.15 L148.46 555.95 L148.97 555.75 L149.47 555.57 L149.97 555.39 L150.48 555.24 L150.98 555.10 L151.48 554.98 L151.99 554.88 L152.49 554.80 L152.99 554.75 L153.50 554.71 L154.00 554.70" fill="none" stroke="#ff8000" stroke-width="2.9" stroke-linejoin="round"/>
</g>
<rect x="63.6" y="527.5" width="106.0" height="47.89999999999998" fill="none" stroke="#1a1a1a" stroke-width="1.3"/>
<text x="70.60" y="592.10" font-size="16.5" text-anchor="middle" fill="#000" stroke="#000" stroke-width="0.3" >0</text>
<text x="115.90" y="592.10" font-size="16.5" text-anchor="middle" fill="#000" stroke="#000" stroke-width="0.3" >150</text>
<text x="161.60" y="592.10" font-size="16.5" text-anchor="middle" fill="#000" stroke="#000" stroke-width="0.3" >300</text>
<text x="60.40" y="538.40" font-size="16.5" text-anchor="end" fill="#000" stroke="#000" stroke-width="0.3" >1.00</text>
<text x="60.40" y="572.80" font-size="16.5" text-anchor="end" fill="#000" stroke="#000" stroke-width="0.3" >0.98</text>
<path d="M70.60 575.4v-3.6M115.90 575.4v-3.6M161.60 575.4v-3.6M63.6 532.40h3.6M63.6 566.80h3.6" stroke="#1a1a1a" stroke-width="1.3" fill="none"/>
<circle cx="109.00" cy="535.40" r="3.7" fill="none" stroke="#ff8000" stroke-width="1.0"/>
<text x="124.90" y="539.40" font-size="10.7" text-anchor="start" fill="#000" stroke="#000" stroke-width="0.3" >15.9 mW</text>
<clipPath id="c12"><rect x="209.7" y="527.5" width="106.10000000000002" height="47.89999999999998"/></clipPath><g clip-path="url(#c12)">
<rect x="216.50" y="532.52" width="6.6" height="6.6" fill="none" stroke="#ff8000" stroke-width="1.0"/>
<rect x="218.20" y="534.10" width="6.6" height="6.6" fill="none" stroke="#ff8000" stroke-width="1.0"/>
<rect x="219.89" y="538.16" width="6.6" height="6.6" fill="none" stroke="#ff8000" stroke-width="1.0"/>
<rect x="221.59" y="541.06" width="6.6" height="6.6" fill="none" stroke="#ff8000" stroke-width="1.0"/>
<rect x="223.28" y="542.20" width="6.6" height="6.6" fill="none" stroke="#ff8000" stroke-width="1.0"/>
<rect x="224.98" y="546.96" width="6.6" height="6.6" fill="none" stroke="#ff8000" stroke-width="1.0"/>
<rect x="226.68" y="551.29" width="6.6" height="6.6" fill="none" stroke="#ff8000" stroke-width="1.0"/>
<rect x="228.37" y="555.01" width="6.6" height="6.6" fill="none" stroke="#ff8000" stroke-width="1.0"/>
<rect x="230.07" y="561.74" width="6.6" height="6.6" fill="none" stroke="#ff8000" stroke-width="1.0"/>
<rect x="231.76" y="565.01" width="6.6" height="6.6" fill="none" stroke="#ff8000" stroke-width="1.0"/>
<rect x="233.46" y="565.70" width="6.6" height="6.6" fill="none" stroke="#ff8000" stroke-width="1.0"/>
<rect x="235.16" y="567.61" width="6.6" height="6.6" fill="none" stroke="#ff8000" stroke-width="1.0"/>
<rect x="236.85" y="571.62" width="6.6" height="6.6" fill="none" stroke="#ff8000" stroke-width="1.0"/>
<rect x="238.55" y="566.84" width="6.6" height="6.6" fill="none" stroke="#ff8000" stroke-width="1.0"/>
<rect x="240.24" y="568.65" width="6.6" height="6.6" fill="none" stroke="#ff8000" stroke-width="1.0"/>
<rect x="241.94" y="563.79" width="6.6" height="6.6" fill="none" stroke="#ff8000" stroke-width="1.0"/>
<rect x="243.63" y="562.11" width="6.6" height="6.6" fill="none" stroke="#ff8000" stroke-width="1.0"/>
<rect x="245.33" y="562.89" width="6.6" height="6.6" fill="none" stroke="#ff8000" stroke-width="1.0"/>
<rect x="247.03" y="560.41" width="6.6" height="6.6" fill="none" stroke="#ff8000" stroke-width="1.0"/>
<rect x="248.72" y="555.94" width="6.6" height="6.6" fill="none" stroke="#ff8000" stroke-width="1.0"/>
<rect x="250.42" y="555.39" width="6.6" height="6.6" fill="none" stroke="#ff8000" stroke-width="1.0"/>
<rect x="252.11" y="555.14" width="6.6" height="6.6" fill="none" stroke="#ff8000" stroke-width="1.0"/>
<rect x="253.81" y="555.27" width="6.6" height="6.6" fill="none" stroke="#ff8000" stroke-width="1.0"/>
<rect x="255.51" y="553.00" width="6.6" height="6.6" fill="none" stroke="#ff8000" stroke-width="1.0"/>
<rect x="257.20" y="554.86" width="6.6" height="6.6" fill="none" stroke="#ff8000" stroke-width="1.0"/>
<rect x="258.90" y="557.02" width="6.6" height="6.6" fill="none" stroke="#ff8000" stroke-width="1.0"/>
<rect x="260.59" y="557.58" width="6.6" height="6.6" fill="none" stroke="#ff8000" stroke-width="1.0"/>
<rect x="262.29" y="559.15" width="6.6" height="6.6" fill="none" stroke="#ff8000" stroke-width="1.0"/>
<rect x="263.99" y="556.69" width="6.6" height="6.6" fill="none" stroke="#ff8000" stroke-width="1.0"/>
<rect x="265.68" y="557.20" width="6.6" height="6.6" fill="none" stroke="#ff8000" stroke-width="1.0"/>
<rect x="267.38" y="561.47" width="6.6" height="6.6" fill="none" stroke="#ff8000" stroke-width="1.0"/>
<rect x="269.07" y="559.56" width="6.6" height="6.6" fill="none" stroke="#ff8000" stroke-width="1.0"/>
<rect x="270.77" y="560.38" width="6.6" height="6.6" fill="none" stroke="#ff8000" stroke-width="1.0"/>
<rect x="272.47" y="559.83" width="6.6" height="6.6" fill="none" stroke="#ff8000" stroke-width="1.0"/>
<rect x="274.16" y="559.40" width="6.6" height="6.6" fill="none" stroke="#ff8000" stroke-width="1.0"/>
<rect x="275.86" y="559.42" width="6.6" height="6.6" fill="none" stroke="#ff8000" stroke-width="1.0"/>
<rect x="277.55" y="559.20" width="6.6" height="6.6" fill="none" stroke="#ff8000" stroke-width="1.0"/>
<rect x="279.25" y="561.76" width="6.6" height="6.6" fill="none" stroke="#ff8000" stroke-width="1.0"/>
<rect x="280.94" y="558.36" width="6.6" height="6.6" fill="none" stroke="#ff8000" stroke-width="1.0"/>
<rect x="282.64" y="557.57" width="6.6" height="6.6" fill="none" stroke="#ff8000" stroke-width="1.0"/>
<rect x="284.34" y="560.19" width="6.6" height="6.6" fill="none" stroke="#ff8000" stroke-width="1.0"/>
<rect x="286.03" y="558.83" width="6.6" height="6.6" fill="none" stroke="#ff8000" stroke-width="1.0"/>
<rect x="287.73" y="557.87" width="6.6" height="6.6" fill="none" stroke="#ff8000" stroke-width="1.0"/>
<rect x="289.42" y="554.81" width="6.6" height="6.6" fill="none" stroke="#ff8000" stroke-width="1.0"/>
<rect x="291.12" y="555.12" width="6.6" height="6.6" fill="none" stroke="#ff8000" stroke-width="1.0"/>
<rect x="292.82" y="553.57" width="6.6" height="6.6" fill="none" stroke="#ff8000" stroke-width="1.0"/>
<rect x="294.51" y="555.22" width="6.6" height="6.6" fill="none" stroke="#ff8000" stroke-width="1.0"/>
<rect x="296.21" y="553.98" width="6.6" height="6.6" fill="none" stroke="#ff8000" stroke-width="1.0"/>
<rect x="297.90" y="555.48" width="6.6" height="6.6" fill="none" stroke="#ff8000" stroke-width="1.0"/>
<rect x="299.60" y="553.63" width="6.6" height="6.6" fill="none" stroke="#ff8000" stroke-width="1.0"/>
<path d="M217.60 536.30 L218.10 536.35 L218.60 536.51 L219.11 536.78 L219.61 537.14 L220.11 537.61 L220.61 538.17 L221.12 538.83 L221.62 539.58 L222.12 540.42 L222.62 541.34 L223.13 542.33 L223.63 543.39 L224.13 544.51 L224.63 545.69 L225.14 546.92 L225.64 548.18 L226.14 549.48 L226.64 550.81 L227.15 552.15 L227.65 553.50 L228.15 554.85 L228.66 556.19 L229.16 557.52 L229.66 558.82 L230.16 560.08 L230.66 561.31 L231.17 562.49 L231.67 563.61 L232.17 564.67 L232.67 565.66 L233.18 566.58 L233.68 567.42 L234.18 568.17 L234.69 568.83 L235.19 569.39 L235.69 569.86 L236.19 570.22 L236.69 570.49 L237.20 570.65 L237.70 570.70 L238.21 570.67 L238.71 570.58 L239.22 570.43 L239.72 570.22 L240.23 569.95 L240.73 569.63 L241.24 569.26 L241.75 568.84 L242.25 568.37 L242.76 567.86 L243.26 567.31 L243.77 566.73 L244.27 566.12 L244.78 565.48 L245.29 564.83 L245.79 564.16 L246.30 563.49 L246.80 562.81 L247.31 562.14 L247.81 561.47 L248.32 560.82 L248.83 560.18 L249.33 559.57 L249.84 558.99 L250.34 558.44 L250.85 557.93 L251.35 557.46 L251.86 557.04 L252.37 556.67 L252.87 556.35 L253.38 556.08 L253.88 555.87 L254.39 555.72 L254.89 555.63 L255.40 555.60 L255.91 555.62 L256.41 555.67 L256.92 555.75 L257.42 555.87 L257.93 556.02 L258.44 556.20 L258.94 556.40 L259.45 556.64 L259.95 556.89 L260.46 557.17 L260.97 557.48 L261.47 557.79 L261.98 558.12 L262.48 558.47 L262.99 558.82 L263.50 559.17 L264.00 559.53 L264.51 559.88 L265.02 560.23 L265.52 560.58 L266.03 560.91 L266.53 561.23 L267.04 561.53 L267.55 561.81 L268.05 562.06 L268.56 562.30 L269.06 562.50 L269.57 562.68 L270.08 562.83 L270.58 562.95 L271.09 563.03 L271.59 563.08 L272.10 563.10 L272.60 563.09 L273.10 563.08 L273.61 563.05 L274.11 563.02 L274.61 562.97 L275.11 562.92 L275.61 562.85 L276.11 562.78 L276.62 562.70 L277.12 562.60 L277.62 562.50 L278.12 562.39 L278.62 562.28 L279.12 562.15 L279.63 562.02 L280.13 561.88 L280.63 561.73 L281.13 561.58 L281.63 561.43 L282.14 561.26 L282.64 561.10 L283.14 560.92 L283.64 560.75 L284.14 560.57 L284.64 560.39 L285.15 560.21 L285.65 560.03 L286.15 559.84 L286.65 559.66 L287.15 559.47 L287.65 559.29 L288.16 559.11 L288.66 558.93 L289.16 558.75 L289.66 558.58 L290.16 558.40 L290.66 558.24 L291.17 558.08 L291.67 557.92 L292.17 557.77 L292.67 557.62 L293.17 557.48 L293.68 557.35 L294.18 557.22 L294.68 557.11 L295.18 557.00 L295.68 556.90 L296.18 556.80 L296.69 556.72 L297.19 556.65 L297.69 556.58 L298.19 556.53 L298.69 556.48 L299.19 556.45 L299.70 556.42 L300.20 556.41 L300.70 556.40" fill="none" stroke="#ff8000" stroke-width="2.9" stroke-linejoin="round"/>
</g>
<rect x="209.7" y="527.5" width="106.10000000000002" height="47.89999999999998" fill="none" stroke="#1a1a1a" stroke-width="1.3"/>
<text x="217.10" y="592.10" font-size="16.5" text-anchor="middle" fill="#000" stroke="#000" stroke-width="0.3" >0</text>
<text x="262.90" y="592.10" font-size="16.5" text-anchor="middle" fill="#000" stroke="#000" stroke-width="0.3" >150</text>
<text x="308.60" y="592.10" font-size="16.5" text-anchor="middle" fill="#000" stroke="#000" stroke-width="0.3" >300</text>
<text x="206.50" y="540.10" font-size="16.5" text-anchor="end" fill="#000" stroke="#000" stroke-width="0.3" >1.00</text>
<text x="206.50" y="570.30" font-size="16.5" text-anchor="end" fill="#000" stroke="#000" stroke-width="0.3" >0.98</text>
<path d="M217.10 575.4v-3.6M262.90 575.4v-3.6M308.60 575.4v-3.6M209.7 534.10h3.6M209.7 564.30h3.6" stroke="#1a1a1a" stroke-width="1.3" fill="none"/>
<rect x="252.40" y="531.80" width="6.6" height="6.6" fill="none" stroke="#ff8000" stroke-width="1.0"/>
<text x="270.80" y="539.10" font-size="10.7" text-anchor="start" fill="#000" stroke="#000" stroke-width="0.3" >20.0 mW</text>
<circle cx="152.6" cy="554.6" r="4.1" fill="#fff" stroke="#ff8000" stroke-width="1.1"/>
<text x="22.00" y="339.00" font-size="20.3" text-anchor="middle" fill="#000" stroke="#000" stroke-width="0.3" transform="rotate(-90 22 339)">PL (arb. units)</text>
<text x="85.30" y="621.50" font-size="20.35" text-anchor="start" fill="#000" stroke="#000" stroke-width="0.3" >MW Duration Time (ns)</text>
<path d="M459.3 108.6L641.5 35.4" stroke="#ff0000" stroke-width="2.2" fill="none"/>
<rect x="455.70" y="105.30" width="7.2" height="6.6" fill="#fff" stroke="#ff0000" stroke-width="1.9"/>
<path d="M455.70 108.60h7.2" stroke="#ff0000" stroke-width="1.5" fill="none"/>
<rect x="496.70" y="89.60" width="7.2" height="6.6" fill="#fff" stroke="#ff0000" stroke-width="1.9"/>
<path d="M496.70 92.90h7.2" stroke="#ff0000" stroke-width="1.5" fill="none"/>
<rect x="555.50" y="66.50" width="7.2" height="6.6" fill="#fff" stroke="#ff0000" stroke-width="1.9"/>
<path d="M555.50 69.80h7.2" stroke="#ff0000" stroke-width="1.5" fill="none"/>
<rect x="637.90" y="32.10" width="7.2" height="6.6" fill="#fff" stroke="#ff0000" stroke-width="1.9"/>
<path d="M637.90 35.40h7.2" stroke="#ff0000" stroke-width="1.5" fill="none"/>
<rect x="422.2" y="20.3" width="252.3" height="101" fill="none" stroke="#1a1a1a" stroke-width="1.3"/>
<text x="422.20" y="138.90" font-size="16.5" text-anchor="middle" fill="#000" stroke="#000" stroke-width="0.3" >5</text>
<text x="485.27" y="138.90" font-size="16.5" text-anchor="middle" fill="#000" stroke="#000" stroke-width="0.3" >10</text>
<text x="548.35" y="138.90" font-size="16.5" text-anchor="middle" fill="#000" stroke="#000" stroke-width="0.3" >15</text>
<text x="611.42" y="138.90" font-size="16.5" text-anchor="middle" fill="#000" stroke="#000" stroke-width="0.3" >20</text>
<text x="674.50" y="138.90" font-size="16.5" text-anchor="middle" fill="#000" stroke="#000" stroke-width="0.3" >25</text>
<text x="417.40" y="117.10" font-size="16.5" text-anchor="end" fill="#000" stroke="#000" stroke-width="0.3" >4</text>
<text x="417.40" y="80.40" font-size="16.5" text-anchor="end" fill="#000" stroke="#000" stroke-width="0.3" >8</text>
<text x="417.40" y="43.70" font-size="16.5" text-anchor="end" fill="#000" stroke="#000" stroke-width="0.3" >12</text>
<path d="M422.20 121.3v-3.6M485.27 121.3v-3.6M548.35 121.3v-3.6M611.42 121.3v-3.6M674.50 121.3v-3.6M422.2 112h3.6M422.2 75.3h3.6M422.2 38.6h3.6" stroke="#1a1a1a" stroke-width="1.3" fill="none"/>
<rect x="618.5" y="103.2" width="7.2" height="7.3" fill="none" stroke="#ff0000" stroke-width="1.6"/>
<text x="641.20" y="111.40" font-size="13.1" text-anchor="start" fill="#000" stroke="#000" stroke-width="0.3" >n = 1</text>
<path d="M458 242.6L632 156.3" stroke="#0000ff" stroke-width="2.2" fill="none"/>
<rect x="453.20" y="239.90" width="7.2" height="6.6" fill="#fff" stroke="#0000ff" stroke-width="1.9"/>
<path d="M453.20 243.20h7.2M456.80 239.90v6.6" stroke="#0000ff" stroke-width="1.5" fill="none"/>
<rect x="481.20" y="225.50" width="7.2" height="6.6" fill="#fff" stroke="#0000ff" stroke-width="1.9"/>
<path d="M481.20 228.80h7.2M484.80 225.50v6.6" stroke="#0000ff" stroke-width="1.5" fill="none"/>
<rect x="511.00" y="213.30" width="7.2" height="6.6" fill="#fff" stroke="#0000ff" stroke-width="1.9"/>
<path d="M511.00 216.60h7.2M514.60 213.30v6.6" stroke="#0000ff" stroke-width="1.5" fill="none"/>
<rect x="545.70" y="190.50" width="7.2" height="6.6" fill="#fff" stroke="#0000ff" stroke-width="1.9"/>
<path d="M545.70 193.80h7.2M549.30 190.50v6.6" stroke="#0000ff" stroke-width="1.5" fill="none"/>
<rect x="584.60" y="174.00" width="7.2" height="6.6" fill="#fff" stroke="#0000ff" stroke-width="1.9"/>
<path d="M584.60 177.30h7.2M588.20 174.00v6.6" stroke="#0000ff" stroke-width="1.5" fill="none"/>
<rect x="627.70" y="160.70" width="7.2" height="6.6" fill="#fff" stroke="#0000ff" stroke-width="1.9"/>
<path d="M627.70 164.00h7.2M631.30 160.70v6.6" stroke="#0000ff" stroke-width="1.5" fill="none"/>
<rect x="422.2" y="152.5" width="252.3" height="101.1" fill="none" stroke="#1a1a1a" stroke-width="1.3"/>
<text x="422.20" y="271.50" font-size="16.5" text-anchor="middle" fill="#000" stroke="#000" stroke-width="0.3" >1.5</text>
<text x="485.27" y="271.50" font-size="16.5" text-anchor="middle" fill="#000" stroke="#000" stroke-width="0.3" >2.0</text>
<text x="548.35" y="271.50" font-size="16.5" text-anchor="middle" fill="#000" stroke="#000" stroke-width="0.3" >2.5</text>
<text x="611.42" y="271.50" font-size="16.5" text-anchor="middle" fill="#000" stroke="#000" stroke-width="0.3" >3.0</text>
<text x="674.50" y="271.50" font-size="16.5" text-anchor="middle" fill="#000" stroke="#000" stroke-width="0.3" >3.5</text>
<text x="417.40" y="244.40" font-size="16.5" text-anchor="end" fill="#000" stroke="#000" stroke-width="0.3" >5</text>
<text x="417.40" y="208.20" font-size="16.5" text-anchor="end" fill="#000" stroke="#000" stroke-width="0.3" >10</text>
<text x="417.40" y="172.00" font-size="16.5" text-anchor="end" fill="#000" stroke="#000" stroke-width="0.3" >15</text>
<path d="M422.20 253.6v-3.6M485.27 253.6v-3.6M548.35 253.6v-3.6M611.42 253.6v-3.6M674.50 253.6v-3.6M422.2 239.3h3.6M422.2 203.1h3.6M422.2 166.9h3.6" stroke="#1a1a1a" stroke-width="1.3" fill="none"/>
<rect x="618.6" y="235.7" width="7.2" height="7.3" fill="none" stroke="#0000ff" stroke-width="1.6"/>
<text x="641.20" y="243.60" font-size="13.1" text-anchor="start" fill="#000" stroke="#000" stroke-width="0.3" >n = 2</text>
<text x="394.00" y="146.00" font-size="20" text-anchor="middle" fill="#000" stroke="#000" stroke-width="0.3" transform="rotate(-90 394 146)">Rabi Freq. (MHz)</text>
<text x="474.3" y="300.8" font-size="20" stroke="#000" stroke-width="0.3" font-family="Liberation Sans, sans-serif">Power<tspan font-size="13" dy="-7.5">1/2</tspan><tspan dy="7.5"> (mW</tspan><tspan font-size="13" dy="-7.5">1/2</tspan><tspan dy="7.5">)</tspan></text>
<path d="M441.70 372.39 L442.24 372.42 L442.78 372.45 L443.31 372.48 L443.85 372.51 L444.39 372.54 L444.92 372.58 L445.46 372.61 L446.00 372.64 L446.54 372.68 L447.07 372.71 L447.61 372.75 L448.15 372.79 L448.68 372.82 L449.22 372.86 L449.76 372.90 L450.29 372.94 L450.83 372.99 L451.37 373.03 L451.90 373.07 L452.44 373.12 L452.98 373.16 L453.52 373.21 L454.05 373.26 L454.59 373.31 L455.13 373.36 L455.66 373.41 L456.20 373.46 L456.74 373.51 L457.27 373.57 L457.81 373.62 L458.35 373.68 L458.88 373.74 L459.42 373.80 L459.96 373.86 L460.50 373.92 L461.03 373.99 L461.57 374.05 L462.11 374.12 L462.64 374.19 L463.18 374.26 L463.72 374.33 L464.25 374.41 L464.79 374.48 L465.33 374.56 L465.87 374.64 L466.40 374.72 L466.94 374.80 L467.48 374.89 L468.01 374.98 L468.55 375.07 L469.09 375.16 L469.62 375.25 L470.16 375.34 L470.70 375.44 L471.23 375.54 L471.77 375.64 L472.31 375.75 L472.85 375.85 L473.38 375.96 L473.92 376.08 L474.46 376.19 L474.99 376.31 L475.53 376.43 L476.07 376.55 L476.60 376.67 L477.14 376.80 L477.68 376.93 L478.21 377.07 L478.75 377.20 L479.29 377.34 L479.83 377.49 L480.36 377.63 L480.90 377.78 L481.44 377.94 L481.97 378.09 L482.51 378.25 L483.05 378.42 L483.58 378.58 L484.12 378.75 L484.66 378.93 L485.19 379.11 L485.73 379.29 L486.27 379.48 L486.81 379.67 L487.34 379.87 L487.88 380.07 L488.42 380.27 L488.95 380.48 L489.49 380.70 L490.03 380.91 L490.56 381.14 L491.10 381.37 L491.64 381.60 L492.17 381.84 L492.71 382.08 L493.25 382.33 L493.79 382.59 L494.32 382.85 L494.86 383.12 L495.40 383.39 L495.93 383.67 L496.47 383.95 L497.01 384.24 L497.54 384.54 L498.08 384.84 L498.62 385.15 L499.16 385.47 L499.69 385.79 L500.23 386.12 L500.77 386.46 L501.30 386.81 L501.84 387.16 L502.38 387.52 L502.91 387.88 L503.45 388.26 L503.99 388.64 L504.52 389.04 L505.06 389.43 L505.60 389.84 L506.14 390.26 L506.67 390.69 L507.21 391.12 L507.75 391.56 L508.28 392.02 L508.82 392.48 L509.36 392.95 L509.89 393.43 L510.43 393.92 L510.97 394.42 L511.50 394.93 L512.04 395.45 L512.58 395.99 L513.12 396.53 L513.65 397.08 L514.19 397.65 L514.73 398.22 L515.26 398.81 L515.80 399.41 L516.34 400.02 L516.87 400.64 L517.41 401.27 L517.95 401.92 L518.48 402.58 L519.02 403.25 L519.56 403.93 L520.10 404.63 L520.63 405.33 L521.17 406.06 L521.71 406.79 L522.24 407.54 L522.78 408.30 L523.32 409.08 L523.85 409.87 L524.39 410.68 L524.93 411.49 L525.46 412.33 L526.00 413.17 L526.54 414.04 L527.08 414.91 L527.61 415.80 L528.15 416.71 L528.69 417.63 L529.22 418.57 L529.76 419.52 L530.30 420.49 L530.83 421.47 L531.37 422.47 L531.91 423.48 L532.45 424.51 L532.98 425.55 L533.52 426.61 L534.06 427.68 L534.59 428.78 L535.13 429.88 L535.67 431.00 L536.20 432.14 L536.74 433.29 L537.28 434.46 L537.81 435.64 L538.35 436.84 L538.89 438.06 L539.43 439.28 L539.96 440.53 L540.50 441.79 L541.04 443.06 L541.57 444.35 L542.11 445.65 L542.65 446.96 L543.18 448.29 L543.72 449.63 L544.26 450.99 L544.79 452.35 L545.33 453.73 L545.87 455.13 L546.41 456.53 L546.94 457.94 L547.48 459.37 L548.02 460.81 L548.55 462.25 L549.09 463.71 L549.63 465.17 L550.16 466.64 L550.70 468.12 L551.24 469.61 L551.77 471.10 L552.31 472.60 L552.85 474.11 L553.39 475.62 L553.92 477.13 L554.46 478.65 L555.00 480.17 L555.53 481.69 L556.07 483.21 L556.61 484.73 L557.14 486.25 L557.68 487.76 L558.22 489.28 L558.75 490.79 L559.29 492.30 L559.83 493.80 L560.37 495.29 L560.90 496.78 L561.44 498.26 L561.98 499.73 L562.51 501.19 L563.05 502.64 L563.59 504.08 L564.12 505.50 L564.66 506.91 L565.20 508.31 L565.73 509.68 L566.27 511.05 L566.81 512.39 L567.35 513.72 L567.88 515.02 L568.42 516.31 L568.96 517.57 L569.49 518.81 L570.03 520.03 L570.57 521.22 L571.10 522.39 L571.64 523.54 L572.18 524.66 L572.72 525.75 L573.25 526.82 L573.79 527.85 L574.33 528.86 L574.86 529.85 L575.40 530.80 L575.94 531.72 L576.47 532.62 L577.01 533.48 L577.55 534.32 L578.08 535.12 L578.62 535.90 L579.16 536.64 L579.70 537.36 L580.23 538.05 L580.77 538.70 L581.31 539.33 L581.84 539.93 L582.38 540.50 L582.92 541.04 L583.45 541.56 L583.99 542.05 L584.53 542.51 L585.06 542.94 L585.60 543.35 L586.14 543.74 L586.68 544.10 L587.21 544.44 L587.75 544.76 L588.29 545.06 L588.82 545.33 L589.36 545.59 L589.90 545.82 L590.43 546.04 L590.97 546.24 L591.51 546.43 L592.04 546.60 L592.58 546.76 L593.12 546.90 L593.66 547.03 L594.19 547.14 L594.73 547.25 L595.27 547.35 L595.80 547.43 L596.34 547.51 L596.88 547.58 L597.41 547.64 L597.95 547.70 L598.49 547.74 L599.02 547.79 L599.56 547.82 L600.10 547.86 L600.64 547.89 L601.17 547.91 L601.71 547.93 L602.25 547.95 L602.78 547.97 L603.32 547.98 L603.86 547.99 L604.39 548.00 L604.93 548.01 L605.47 548.02 L606.01 548.02 L606.54 548.03 L607.08 548.03 L607.62 548.04 L608.15 548.04 L608.69 548.04 L609.23 548.04 L609.76 548.05 L610.30 548.05 L610.84 548.05 L611.37 548.05 L611.91 548.05 L612.45 548.05 L612.99 548.05 L613.52 548.05 L614.06 548.05 L614.60 548.05 L615.13 548.05 L615.67 548.05 L616.21 548.05 L616.74 548.05 L617.28 548.05 L617.82 548.05 L618.35 548.05 L618.89 548.05 L619.43 548.05 L619.97 548.05 L620.50 548.05 L621.04 548.05 L621.58 548.05 L622.11 548.05 L622.65 548.05 L623.19 548.05 L623.72 548.05 L624.26 548.05 L624.80 548.05 L625.33 548.05 L625.87 548.05 L626.41 548.05 L626.95 548.05 L627.48 548.05 L628.02 548.05 L628.56 548.05 L629.09 548.05 L629.63 548.05 L630.17 548.05 L630.70 548.05 L631.24 548.05 L631.78 548.05 L632.31 548.05 L632.85 548.05 L633.39 548.05 L633.93 548.05 L634.46 548.05 L635.00 548.05 L635.54 548.05 L636.07 548.05 L636.61 548.05 L637.15 548.05 L637.68 548.05 L638.22 548.05 L638.76 548.05 L639.30 548.05 L639.83 548.05 L640.37 548.05 L640.91 548.05 L641.44 548.05 L641.98 548.05 L642.52 548.05 L643.05 548.05 L643.59 548.05 L644.13 548.05 L644.66 548.05 L645.20 548.05 L645.74 548.05 L646.28 548.05 L646.81 548.05 L647.35 548.05 L647.89 548.05 L648.42 548.05 L648.96 548.05 L649.50 548.05 L650.03 548.05 L650.57 548.05 L651.11 548.05 L651.64 548.05 L652.18 548.05 L652.72 548.05 L653.26 548.05 L653.79 548.05 L654.33 548.05 L654.87 548.05 L655.40 548.05 L655.94 548.05 L656.48 548.05" stroke="#ff0000" stroke-width="2.2" fill="none"/>
<circle cx="442.1" cy="367.3" r="5.1" fill="#000"/>
<circle cx="448.8" cy="358.2" r="5.1" fill="#000"/>
<circle cx="457.9" cy="383.6" r="5.1" fill="#000"/>
<circle cx="469.9" cy="392.7" r="5.1" fill="#000"/>
<circle cx="483.2" cy="380.7" r="5.1" fill="#000"/>
<circle cx="497.7" cy="384.4" r="5.1" fill="#000"/>
<circle cx="513.2" cy="389.1" r="5.1" fill="#000"/>
<circle cx="528.3" cy="407.3" r="5.1" fill="#000"/>
<circle cx="544.3" cy="437.8" r="5.1" fill="#000"/>
<circle cx="560" cy="511.1" r="5.1" fill="#000"/>
<circle cx="575.6" cy="534.2" r="5.1" fill="#000"/>
<circle cx="591.8" cy="540.4" r="5.1" fill="#000"/>
<circle cx="607.8" cy="541.3" r="5.1" fill="#000"/>
<circle cx="623.6" cy="546.9" r="5.1" fill="#000"/>
<circle cx="639.3" cy="544.9" r="5.1" fill="#000"/>
<circle cx="655.6" cy="557.3" r="5.1" fill="#000"/>
<rect x="422.2" y="342.7" width="252.09999999999997" height="232.7" fill="none" stroke="#1a1a1a" stroke-width="1.3"/>
<text x="438.00" y="594.20" font-size="16.5" text-anchor="middle" fill="#000" stroke="#000" stroke-width="0.3" >0.01</text>
<text x="490.90" y="594.20" font-size="16.5" text-anchor="middle" fill="#000" stroke="#000" stroke-width="0.3" >0.1</text>
<text x="543.80" y="594.20" font-size="16.5" text-anchor="middle" fill="#000" stroke="#000" stroke-width="0.3" >1</text>
<text x="596.70" y="594.20" font-size="16.5" text-anchor="middle" fill="#000" stroke="#000" stroke-width="0.3" >10</text>
<text x="649.60" y="594.20" font-size="16.5" text-anchor="middle" fill="#000" stroke="#000" stroke-width="0.3" >100</text>
<text x="417.60" y="553.60" font-size="16.5" text-anchor="end" fill="#000" stroke="#000" stroke-width="0.3" >0</text>
<text x="417.60" y="471.21" font-size="16.5" text-anchor="end" fill="#000" stroke="#000" stroke-width="0.3" >15</text>
<text x="417.60" y="388.81" font-size="16.5" text-anchor="end" fill="#000" stroke="#000" stroke-width="0.3" >30</text>
<path d="M438.00 575.4v-4M490.90 575.4v-4M543.80 575.4v-4M596.70 575.4v-4M649.60 575.4v-4M426.26 575.4v-2.2M429.81 575.4v-2.2M432.87 575.4v-2.2M435.58 575.4v-2.2M453.92 575.4v-2.2M463.24 575.4v-2.2M469.85 575.4v-2.2M474.98 575.4v-2.2M479.16 575.4v-2.2M482.71 575.4v-2.2M485.77 575.4v-2.2M488.48 575.4v-2.2M506.82 575.4v-2.2M516.14 575.4v-2.2M522.75 575.4v-2.2M527.88 575.4v-2.2M532.06 575.4v-2.2M535.61 575.4v-2.2M538.67 575.4v-2.2M541.38 575.4v-2.2M559.72 575.4v-2.2M569.04 575.4v-2.2M575.65 575.4v-2.2M580.78 575.4v-2.2M584.96 575.4v-2.2M588.51 575.4v-2.2M591.57 575.4v-2.2M594.28 575.4v-2.2M612.62 575.4v-2.2M621.94 575.4v-2.2M628.55 575.4v-2.2M633.68 575.4v-2.2M637.86 575.4v-2.2M641.41 575.4v-2.2M644.47 575.4v-2.2M647.18 575.4v-2.2M665.52 575.4v-2.2M422.2 548.60h3.6M422.2 466.21h3.6M422.2 383.81h3.6" stroke="#1a1a1a" stroke-width="1.3" fill="none"/>
<text x="569" y="365.7" font-size="12.6" stroke="#000" stroke-width="0.3" font-family="Liberation Sans, sans-serif"><tspan font-style="italic">T</tspan><tspan font-size="8.8" dy="3">1</tspan><tspan dy="-3"> = 1.7 ± 0.2 </tspan><tspan>μ</tspan><tspan dx="0.8">s</tspan></text>
<text transform="rotate(-90 392.7 459.4)" x="392.7" y="459.4" font-size="20.4" text-anchor="middle" stroke="#000" stroke-width="0.3" font-family="Liberation Sans, sans-serif">PL (×10<tspan font-size="14" dy="-7.5">3</tspan><tspan dy="7.5"> arb. units)</tspan></text>
<text x="459.6" y="625" font-size="20.6" stroke="#000" stroke-width="0.3" font-family="Liberation Sans, sans-serif">Evolution Time (<tspan dx="0.8">μ</tspan><tspan dx="0.3">s)</tspan></text>
</svg></body></html>
